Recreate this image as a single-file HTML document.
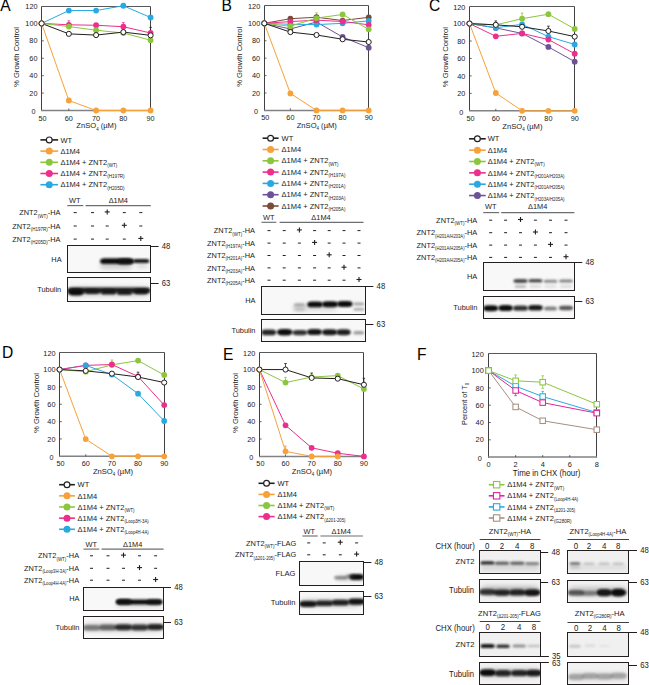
<!DOCTYPE html>
<html><head><meta charset="utf-8"><title>Figure</title>
<style>
html,body{margin:0;padding:0;background:#fff;}
body{width:649px;height:685px;overflow:hidden;}
svg{display:block;font-family:"Liberation Sans",sans-serif;}

</style></head><body>
<svg width="649" height="685" viewBox="0 0 649 685">
<rect width="649" height="685" fill="#fff"/>
<text x="0.30" y="10.50" font-size="15.60" fill="#000">A</text>
<text x="221.60" y="10.60" font-size="15.60" fill="#000">B</text>
<text x="428.90" y="10.60" font-size="15.60" fill="#000">C</text>
<text x="2.00" y="358.30" font-size="15.60" fill="#000">D</text>
<text x="223.00" y="359.60" font-size="15.60" fill="#000">E</text>
<text x="417.00" y="359.50" font-size="15.60" fill="#000">F</text>
<g fill="none">
<line x1="41.50" y1="6.50" x2="150.50" y2="6.50" stroke="#58595b" stroke-width="1.00" />
<line x1="150.50" y1="6.50" x2="150.50" y2="110.50" stroke="#414042" stroke-width="1.00" />
<line x1="41.50" y1="6.50" x2="41.50" y2="111.00" stroke="#414042" stroke-width="1.00" />
<line x1="41.00" y1="110.50" x2="151.00" y2="110.50" stroke="#808285" stroke-width="1.50" />
</g>
<text x="35.50" y="114.51" font-size="7.30" text-anchor="end" fill="#1a1a1a" transform="matrix(1 0 0 1.060 0 -6.871)" >0</text>
<line x1="41.60" y1="93.08" x2="43.80" y2="93.08" stroke="#414042" stroke-width="0.80" />
<text x="37.50" y="95.70" font-size="7.30" text-anchor="end" fill="#1a1a1a" transform="matrix(1 0 0 1.060 0 -5.742)" >20</text>
<line x1="41.60" y1="75.67" x2="43.80" y2="75.67" stroke="#414042" stroke-width="0.80" />
<text x="37.50" y="78.28" font-size="7.30" text-anchor="end" fill="#1a1a1a" transform="matrix(1 0 0 1.060 0 -4.697)" >40</text>
<line x1="41.60" y1="58.25" x2="43.80" y2="58.25" stroke="#414042" stroke-width="0.80" />
<text x="37.50" y="60.86" font-size="7.30" text-anchor="end" fill="#1a1a1a" transform="matrix(1 0 0 1.060 0 -3.652)" >60</text>
<line x1="41.60" y1="40.83" x2="43.80" y2="40.83" stroke="#414042" stroke-width="0.80" />
<text x="37.50" y="43.45" font-size="7.30" text-anchor="end" fill="#1a1a1a" transform="matrix(1 0 0 1.060 0 -2.607)" >80</text>
<line x1="41.60" y1="23.42" x2="43.80" y2="23.42" stroke="#414042" stroke-width="0.80" />
<text x="37.50" y="26.03" font-size="7.30" text-anchor="end" fill="#1a1a1a" transform="matrix(1 0 0 1.060 0 -1.562)" >100</text>
<text x="37.50" y="9.41" font-size="7.30" text-anchor="end" fill="#1a1a1a" transform="matrix(1 0 0 1.060 0 -0.565)" >120</text>
<text x="42.60" y="120.51" font-size="7.30" text-anchor="middle" fill="#1a1a1a" transform="matrix(1 0 0 1.060 0 -7.231)" >50</text>
<line x1="68.85" y1="110.50" x2="68.85" y2="108.50" stroke="#414042" stroke-width="0.80" />
<text x="68.85" y="120.51" font-size="7.30" text-anchor="middle" fill="#1a1a1a" transform="matrix(1 0 0 1.060 0 -7.231)" >60</text>
<line x1="96.10" y1="110.50" x2="96.10" y2="108.50" stroke="#414042" stroke-width="0.80" />
<text x="96.10" y="120.51" font-size="7.30" text-anchor="middle" fill="#1a1a1a" transform="matrix(1 0 0 1.060 0 -7.231)" >70</text>
<line x1="123.35" y1="110.50" x2="123.35" y2="108.50" stroke="#414042" stroke-width="0.80" />
<text x="123.35" y="120.51" font-size="7.30" text-anchor="middle" fill="#1a1a1a" transform="matrix(1 0 0 1.060 0 -7.231)" >80</text>
<text x="150.60" y="120.51" font-size="7.30" text-anchor="middle" fill="#1a1a1a" transform="matrix(1 0 0 1.060 0 -7.231)" >90</text>
<text x="96.40" y="128.42" font-size="7.60" text-anchor="middle" fill="#1a1a1a" transform="matrix(1 0 0 1.060 0 -7.705)" >ZnSO<tspan font-size="4.40" dy="2.00">4</tspan><tspan dy="-2.00"> (µM)</tspan></text>
<g transform="translate(16.75 56.95) rotate(-90)">
<text x="0.00" y="2.72" font-size="7.60" text-anchor="middle" fill="#1a1a1a" transform="matrix(1 0 0 1.060 0 -0.163)" >% Growth Control</text>
</g>
<line x1="68.85" y1="25.16" x2="68.85" y2="20.80" stroke="#ec2f8c" stroke-width="0.80" />
<line x1="67.55" y1="20.80" x2="70.15" y2="20.80" stroke="#ec2f8c" stroke-width="0.80" />
<line x1="123.35" y1="26.90" x2="123.35" y2="22.55" stroke="#ec2f8c" stroke-width="0.80" />
<line x1="122.05" y1="22.55" x2="124.65" y2="22.55" stroke="#ec2f8c" stroke-width="0.80" />
<line x1="150.60" y1="35.61" x2="150.60" y2="27.34" stroke="#231f20" stroke-width="0.80" />
<line x1="149.30" y1="27.34" x2="151.90" y2="27.34" stroke="#231f20" stroke-width="0.80" />
<line x1="123.35" y1="32.12" x2="123.35" y2="27.77" stroke="#231f20" stroke-width="0.80" />
<line x1="122.05" y1="27.77" x2="124.65" y2="27.77" stroke="#231f20" stroke-width="0.80" />
<polyline points="41.60,23.42 68.85,100.49 96.10,110.50 123.35,110.50 150.60,110.50" fill="none" stroke="#f7a13a" stroke-width="1.00" stroke-linejoin="round"/>
<polyline points="41.60,23.42 68.85,10.53 96.10,10.53 123.35,5.74 150.60,17.50" fill="none" stroke="#2aa9e0" stroke-width="1.00" stroke-linejoin="round"/>
<polyline points="41.60,23.42 68.85,24.81 96.10,25.25 123.35,26.73 150.60,33.00" fill="none" stroke="#ec2f8c" stroke-width="1.00" stroke-linejoin="round"/>
<polyline points="41.60,23.42 68.85,26.55 96.10,30.21 123.35,33.00 150.60,40.22" fill="none" stroke="#8cc63f" stroke-width="1.00" stroke-linejoin="round"/>
<polyline points="41.60,23.42 68.85,33.87 96.10,35.09 123.35,32.12 150.60,35.35" fill="none" stroke="#231f20" stroke-width="1.00" stroke-linejoin="round"/>
<circle cx="41.60" cy="23.42" r="2.90" fill="#f7a13a" stroke="none" stroke-width="1.00"/>
<circle cx="68.85" cy="100.49" r="2.90" fill="#f7a13a" stroke="none" stroke-width="1.00"/>
<circle cx="96.10" cy="110.50" r="2.90" fill="#f7a13a" stroke="none" stroke-width="1.00"/>
<circle cx="123.35" cy="110.50" r="2.90" fill="#f7a13a" stroke="none" stroke-width="1.00"/>
<circle cx="150.60" cy="110.50" r="2.90" fill="#f7a13a" stroke="none" stroke-width="1.00"/>
<circle cx="41.60" cy="23.42" r="2.90" fill="#2aa9e0" stroke="none" stroke-width="1.00"/>
<circle cx="68.85" cy="10.53" r="2.90" fill="#2aa9e0" stroke="none" stroke-width="1.00"/>
<circle cx="96.10" cy="10.53" r="2.90" fill="#2aa9e0" stroke="none" stroke-width="1.00"/>
<circle cx="123.35" cy="5.74" r="2.90" fill="#2aa9e0" stroke="none" stroke-width="1.00"/>
<circle cx="150.60" cy="17.50" r="2.90" fill="#2aa9e0" stroke="none" stroke-width="1.00"/>
<circle cx="41.60" cy="23.42" r="2.90" fill="#ec2f8c" stroke="none" stroke-width="1.00"/>
<circle cx="68.85" cy="24.81" r="2.90" fill="#ec2f8c" stroke="none" stroke-width="1.00"/>
<circle cx="96.10" cy="25.25" r="2.90" fill="#ec2f8c" stroke="none" stroke-width="1.00"/>
<circle cx="123.35" cy="26.73" r="2.90" fill="#ec2f8c" stroke="none" stroke-width="1.00"/>
<circle cx="150.60" cy="33.00" r="2.90" fill="#ec2f8c" stroke="none" stroke-width="1.00"/>
<circle cx="41.60" cy="23.42" r="2.90" fill="#8cc63f" stroke="none" stroke-width="1.00"/>
<circle cx="68.85" cy="26.55" r="2.90" fill="#8cc63f" stroke="none" stroke-width="1.00"/>
<circle cx="96.10" cy="30.21" r="2.90" fill="#8cc63f" stroke="none" stroke-width="1.00"/>
<circle cx="123.35" cy="33.00" r="2.90" fill="#8cc63f" stroke="none" stroke-width="1.00"/>
<circle cx="150.60" cy="40.22" r="2.90" fill="#8cc63f" stroke="none" stroke-width="1.00"/>
<circle cx="41.60" cy="23.42" r="2.55" fill="#fff" stroke="#231f20" stroke-width="1.00"/>
<circle cx="68.85" cy="33.87" r="2.55" fill="#fff" stroke="#231f20" stroke-width="1.00"/>
<circle cx="96.10" cy="35.09" r="2.55" fill="#fff" stroke="#231f20" stroke-width="1.00"/>
<circle cx="123.35" cy="32.12" r="2.55" fill="#fff" stroke="#231f20" stroke-width="1.00"/>
<circle cx="150.60" cy="35.35" r="2.55" fill="#fff" stroke="#231f20" stroke-width="1.00"/>
<line x1="40.40" y1="139.90" x2="58.10" y2="139.90" stroke="#231f20" stroke-width="1.60" />
<circle cx="49.25" cy="139.90" r="2.90" fill="#fff" stroke="#231f20" stroke-width="1.20"/>
<text x="60.40" y="142.59" font-size="7.50" text-anchor="start" fill="#1a1a1a" transform="matrix(1 0 0 1.060 0 -8.555)" >WT</text>
<line x1="40.40" y1="151.10" x2="58.10" y2="151.10" stroke="#f7a13a" stroke-width="1.60" />
<circle cx="49.25" cy="151.10" r="3.50" fill="#f7a13a" stroke="none" stroke-width="1.00"/>
<text x="60.40" y="153.78" font-size="7.50" text-anchor="start" fill="#1a1a1a" transform="matrix(1 0 0 1.060 0 -9.227)" >Δ1M4</text>
<line x1="40.40" y1="162.30" x2="58.10" y2="162.30" stroke="#8cc63f" stroke-width="1.60" />
<circle cx="49.25" cy="162.30" r="3.50" fill="#8cc63f" stroke="none" stroke-width="1.00"/>
<text x="60.40" y="164.99" font-size="7.50" text-anchor="start" fill="#1a1a1a" transform="matrix(1 0 0 1.060 0 -9.899)" >Δ1M4 + ZNT2<tspan font-size="4.58" dy="2.17">(WT)</tspan></text>
<line x1="40.40" y1="173.50" x2="58.10" y2="173.50" stroke="#ec2f8c" stroke-width="1.60" />
<circle cx="49.25" cy="173.50" r="3.50" fill="#ec2f8c" stroke="none" stroke-width="1.00"/>
<text x="60.40" y="176.19" font-size="7.50" text-anchor="start" fill="#1a1a1a" transform="matrix(1 0 0 1.060 0 -10.571)" >Δ1M4 + ZNT2<tspan font-size="4.58" dy="2.17">(H197R)</tspan></text>
<line x1="40.40" y1="184.70" x2="58.10" y2="184.70" stroke="#2aa9e0" stroke-width="1.60" />
<circle cx="49.25" cy="184.70" r="3.50" fill="#2aa9e0" stroke="none" stroke-width="1.00"/>
<text x="60.40" y="187.38" font-size="7.50" text-anchor="start" fill="#1a1a1a" transform="matrix(1 0 0 1.060 0 -11.243)" >Δ1M4 + ZNT2<tspan font-size="4.58" dy="2.17">(H205D)</tspan></text>
<g fill="none">
<line x1="264.50" y1="5.50" x2="368.50" y2="5.50" stroke="#58595b" stroke-width="1.00" />
<line x1="368.50" y1="5.50" x2="368.50" y2="110.50" stroke="#414042" stroke-width="1.00" />
<line x1="264.50" y1="5.50" x2="264.50" y2="111.00" stroke="#414042" stroke-width="1.00" />
<line x1="264.00" y1="110.40" x2="369.00" y2="110.40" stroke="#808285" stroke-width="1.50" />
</g>
<text x="258.20" y="114.41" font-size="7.30" text-anchor="end" fill="#1a1a1a" transform="matrix(1 0 0 1.060 0 -6.865)" >0</text>
<line x1="264.30" y1="92.98" x2="266.50" y2="92.98" stroke="#414042" stroke-width="0.80" />
<text x="260.20" y="95.60" font-size="7.30" text-anchor="end" fill="#1a1a1a" transform="matrix(1 0 0 1.060 0 -5.736)" >20</text>
<line x1="264.30" y1="75.57" x2="266.50" y2="75.57" stroke="#414042" stroke-width="0.80" />
<text x="260.20" y="78.18" font-size="7.30" text-anchor="end" fill="#1a1a1a" transform="matrix(1 0 0 1.060 0 -4.691)" >40</text>
<line x1="264.30" y1="58.15" x2="266.50" y2="58.15" stroke="#414042" stroke-width="0.80" />
<text x="260.20" y="60.76" font-size="7.30" text-anchor="end" fill="#1a1a1a" transform="matrix(1 0 0 1.060 0 -3.646)" >60</text>
<line x1="264.30" y1="40.73" x2="266.50" y2="40.73" stroke="#414042" stroke-width="0.80" />
<text x="260.20" y="43.35" font-size="7.30" text-anchor="end" fill="#1a1a1a" transform="matrix(1 0 0 1.060 0 -2.601)" >80</text>
<line x1="264.30" y1="23.32" x2="266.50" y2="23.32" stroke="#414042" stroke-width="0.80" />
<text x="260.20" y="25.93" font-size="7.30" text-anchor="end" fill="#1a1a1a" transform="matrix(1 0 0 1.060 0 -1.556)" >100</text>
<text x="260.20" y="9.31" font-size="7.30" text-anchor="end" fill="#1a1a1a" transform="matrix(1 0 0 1.060 0 -0.559)" >120</text>
<text x="265.30" y="120.41" font-size="7.30" text-anchor="middle" fill="#1a1a1a" transform="matrix(1 0 0 1.060 0 -7.225)" >50</text>
<line x1="290.40" y1="110.40" x2="290.40" y2="108.40" stroke="#414042" stroke-width="0.80" />
<text x="290.40" y="120.41" font-size="7.30" text-anchor="middle" fill="#1a1a1a" transform="matrix(1 0 0 1.060 0 -7.225)" >60</text>
<line x1="316.50" y1="110.40" x2="316.50" y2="108.40" stroke="#414042" stroke-width="0.80" />
<text x="316.50" y="120.41" font-size="7.30" text-anchor="middle" fill="#1a1a1a" transform="matrix(1 0 0 1.060 0 -7.225)" >70</text>
<line x1="342.60" y1="110.40" x2="342.60" y2="108.40" stroke="#414042" stroke-width="0.80" />
<text x="342.60" y="120.41" font-size="7.30" text-anchor="middle" fill="#1a1a1a" transform="matrix(1 0 0 1.060 0 -7.225)" >80</text>
<text x="368.70" y="120.41" font-size="7.30" text-anchor="middle" fill="#1a1a1a" transform="matrix(1 0 0 1.060 0 -7.225)" >90</text>
<text x="316.80" y="128.32" font-size="7.60" text-anchor="middle" fill="#1a1a1a" transform="matrix(1 0 0 1.060 0 -7.699)" >ZnSO<tspan font-size="4.40" dy="2.00">4</tspan><tspan dy="-2.00"> (µM)</tspan></text>
<g transform="translate(239.75 56.85) rotate(-90)">
<text x="0.00" y="2.72" font-size="7.60" text-anchor="middle" fill="#1a1a1a" transform="matrix(1 0 0 1.060 0 -0.163)" >% Growth Control</text>
</g>
<line x1="316.50" y1="18.09" x2="316.50" y2="12.87" stroke="#8cc63f" stroke-width="0.80" />
<line x1="315.20" y1="12.87" x2="317.80" y2="12.87" stroke="#8cc63f" stroke-width="0.80" />
<polyline points="264.30,23.32 290.40,93.42 316.50,110.40 342.60,110.40 368.70,110.40" fill="none" stroke="#f7a13a" stroke-width="1.00" stroke-linejoin="round"/>
<polyline points="264.30,23.32 290.40,28.98 316.50,22.01 342.60,36.99 368.70,47.70" fill="none" stroke="#6e5297" stroke-width="1.00" stroke-linejoin="round"/>
<polyline points="264.30,23.32 290.40,18.70 316.50,17.22 342.60,20.53 368.70,17.31" fill="none" stroke="#7a4a3a" stroke-width="1.00" stroke-linejoin="round"/>
<polyline points="264.30,23.32 290.40,24.27 316.50,24.62 342.60,23.32 368.70,20.88" fill="none" stroke="#2aa9e0" stroke-width="1.00" stroke-linejoin="round"/>
<polyline points="264.30,23.32 290.40,21.58 316.50,20.18 342.60,21.49 368.70,24.80" fill="none" stroke="#ec2f8c" stroke-width="1.00" stroke-linejoin="round"/>
<polyline points="264.30,23.32 290.40,26.19 316.50,18.09 342.60,14.52 368.70,29.33" fill="none" stroke="#8cc63f" stroke-width="1.00" stroke-linejoin="round"/>
<polyline points="264.30,23.32 290.40,32.11 316.50,34.99 342.60,39.25 368.70,42.04" fill="none" stroke="#231f20" stroke-width="1.00" stroke-linejoin="round"/>
<circle cx="264.30" cy="23.32" r="2.90" fill="#f7a13a" stroke="none" stroke-width="1.00"/>
<circle cx="290.40" cy="93.42" r="2.90" fill="#f7a13a" stroke="none" stroke-width="1.00"/>
<circle cx="316.50" cy="110.40" r="2.90" fill="#f7a13a" stroke="none" stroke-width="1.00"/>
<circle cx="342.60" cy="110.40" r="2.90" fill="#f7a13a" stroke="none" stroke-width="1.00"/>
<circle cx="368.70" cy="110.40" r="2.90" fill="#f7a13a" stroke="none" stroke-width="1.00"/>
<circle cx="264.30" cy="23.32" r="2.90" fill="#6e5297" stroke="none" stroke-width="1.00"/>
<circle cx="290.40" cy="28.98" r="2.90" fill="#6e5297" stroke="none" stroke-width="1.00"/>
<circle cx="316.50" cy="22.01" r="2.90" fill="#6e5297" stroke="none" stroke-width="1.00"/>
<circle cx="342.60" cy="36.99" r="2.90" fill="#6e5297" stroke="none" stroke-width="1.00"/>
<circle cx="368.70" cy="47.70" r="2.90" fill="#6e5297" stroke="none" stroke-width="1.00"/>
<circle cx="264.30" cy="23.32" r="2.90" fill="#7a4a3a" stroke="none" stroke-width="1.00"/>
<circle cx="290.40" cy="18.70" r="2.90" fill="#7a4a3a" stroke="none" stroke-width="1.00"/>
<circle cx="316.50" cy="17.22" r="2.90" fill="#7a4a3a" stroke="none" stroke-width="1.00"/>
<circle cx="342.60" cy="20.53" r="2.90" fill="#7a4a3a" stroke="none" stroke-width="1.00"/>
<circle cx="368.70" cy="17.31" r="2.90" fill="#7a4a3a" stroke="none" stroke-width="1.00"/>
<circle cx="264.30" cy="23.32" r="2.90" fill="#2aa9e0" stroke="none" stroke-width="1.00"/>
<circle cx="290.40" cy="24.27" r="2.90" fill="#2aa9e0" stroke="none" stroke-width="1.00"/>
<circle cx="316.50" cy="24.62" r="2.90" fill="#2aa9e0" stroke="none" stroke-width="1.00"/>
<circle cx="342.60" cy="23.32" r="2.90" fill="#2aa9e0" stroke="none" stroke-width="1.00"/>
<circle cx="368.70" cy="20.88" r="2.90" fill="#2aa9e0" stroke="none" stroke-width="1.00"/>
<circle cx="264.30" cy="23.32" r="2.90" fill="#ec2f8c" stroke="none" stroke-width="1.00"/>
<circle cx="290.40" cy="21.58" r="2.90" fill="#ec2f8c" stroke="none" stroke-width="1.00"/>
<circle cx="316.50" cy="20.18" r="2.90" fill="#ec2f8c" stroke="none" stroke-width="1.00"/>
<circle cx="342.60" cy="21.49" r="2.90" fill="#ec2f8c" stroke="none" stroke-width="1.00"/>
<circle cx="368.70" cy="24.80" r="2.90" fill="#ec2f8c" stroke="none" stroke-width="1.00"/>
<circle cx="264.30" cy="23.32" r="2.90" fill="#8cc63f" stroke="none" stroke-width="1.00"/>
<circle cx="290.40" cy="26.19" r="2.90" fill="#8cc63f" stroke="none" stroke-width="1.00"/>
<circle cx="316.50" cy="18.09" r="2.90" fill="#8cc63f" stroke="none" stroke-width="1.00"/>
<circle cx="342.60" cy="14.52" r="2.90" fill="#8cc63f" stroke="none" stroke-width="1.00"/>
<circle cx="368.70" cy="29.33" r="2.90" fill="#8cc63f" stroke="none" stroke-width="1.00"/>
<circle cx="264.30" cy="23.32" r="2.55" fill="#fff" stroke="#231f20" stroke-width="1.00"/>
<circle cx="290.40" cy="32.11" r="2.55" fill="#fff" stroke="#231f20" stroke-width="1.00"/>
<circle cx="316.50" cy="34.99" r="2.55" fill="#fff" stroke="#231f20" stroke-width="1.00"/>
<circle cx="342.60" cy="39.25" r="2.55" fill="#fff" stroke="#231f20" stroke-width="1.00"/>
<circle cx="368.70" cy="42.04" r="2.55" fill="#fff" stroke="#231f20" stroke-width="1.00"/>
<line x1="262.60" y1="138.20" x2="278.60" y2="138.20" stroke="#231f20" stroke-width="1.60" />
<circle cx="270.60" cy="138.20" r="2.90" fill="#fff" stroke="#231f20" stroke-width="1.20"/>
<text x="281.60" y="140.88" font-size="7.50" text-anchor="start" fill="#1a1a1a" transform="matrix(1 0 0 1.060 0 -8.453)" >WT</text>
<line x1="262.60" y1="149.50" x2="278.60" y2="149.50" stroke="#f7a13a" stroke-width="1.60" />
<circle cx="270.60" cy="149.50" r="3.50" fill="#f7a13a" stroke="none" stroke-width="1.00"/>
<text x="281.60" y="152.19" font-size="7.50" text-anchor="start" fill="#1a1a1a" transform="matrix(1 0 0 1.060 0 -9.131)" >Δ1M4</text>
<line x1="262.60" y1="160.80" x2="278.60" y2="160.80" stroke="#8cc63f" stroke-width="1.60" />
<circle cx="270.60" cy="160.80" r="3.50" fill="#8cc63f" stroke="none" stroke-width="1.00"/>
<text x="281.60" y="163.48" font-size="7.50" text-anchor="start" fill="#1a1a1a" transform="matrix(1 0 0 1.060 0 -9.809)" >Δ1M4 + ZNT2<tspan font-size="4.58" dy="2.17">(WT)</tspan></text>
<line x1="262.60" y1="172.10" x2="278.60" y2="172.10" stroke="#ec2f8c" stroke-width="1.60" />
<circle cx="270.60" cy="172.10" r="3.50" fill="#ec2f8c" stroke="none" stroke-width="1.00"/>
<text x="281.60" y="174.78" font-size="7.50" text-anchor="start" fill="#1a1a1a" transform="matrix(1 0 0 1.060 0 -10.487)" >Δ1M4 + ZNT2<tspan font-size="4.58" dy="2.17">(H197A)</tspan></text>
<line x1="262.60" y1="183.40" x2="278.60" y2="183.40" stroke="#2aa9e0" stroke-width="1.60" />
<circle cx="270.60" cy="183.40" r="3.50" fill="#2aa9e0" stroke="none" stroke-width="1.00"/>
<text x="281.60" y="186.08" font-size="7.50" text-anchor="start" fill="#1a1a1a" transform="matrix(1 0 0 1.060 0 -11.165)" >Δ1M4 + ZNT2<tspan font-size="4.58" dy="2.17">(H201A)</tspan></text>
<line x1="262.60" y1="194.70" x2="278.60" y2="194.70" stroke="#6e5297" stroke-width="1.60" />
<circle cx="270.60" cy="194.70" r="3.50" fill="#6e5297" stroke="none" stroke-width="1.00"/>
<text x="281.60" y="197.38" font-size="7.50" text-anchor="start" fill="#1a1a1a" transform="matrix(1 0 0 1.060 0 -11.843)" >Δ1M4 + ZNT2<tspan font-size="4.58" dy="2.17">(H203A)</tspan></text>
<line x1="262.60" y1="206.00" x2="278.60" y2="206.00" stroke="#7a4a3a" stroke-width="1.60" />
<circle cx="270.60" cy="206.00" r="3.50" fill="#7a4a3a" stroke="none" stroke-width="1.00"/>
<text x="281.60" y="208.69" font-size="7.50" text-anchor="start" fill="#1a1a1a" transform="matrix(1 0 0 1.060 0 -12.521)" >Δ1M4 + ZNT2<tspan font-size="4.58" dy="2.17">(H205A)</tspan></text>
<g fill="none">
<line x1="469.50" y1="6.50" x2="574.50" y2="6.50" stroke="#58595b" stroke-width="1.00" />
<line x1="574.50" y1="6.50" x2="574.50" y2="110.50" stroke="#414042" stroke-width="1.00" />
<line x1="469.50" y1="6.50" x2="469.50" y2="111.00" stroke="#414042" stroke-width="1.00" />
<line x1="469.00" y1="110.80" x2="575.00" y2="110.80" stroke="#808285" stroke-width="1.50" />
</g>
<text x="463.40" y="114.81" font-size="7.30" text-anchor="end" fill="#1a1a1a" transform="matrix(1 0 0 1.060 0 -6.889)" >0</text>
<line x1="469.50" y1="93.35" x2="471.70" y2="93.35" stroke="#414042" stroke-width="0.80" />
<text x="465.40" y="95.96" font-size="7.30" text-anchor="end" fill="#1a1a1a" transform="matrix(1 0 0 1.060 0 -5.758)" >20</text>
<line x1="469.50" y1="75.90" x2="471.70" y2="75.90" stroke="#414042" stroke-width="0.80" />
<text x="465.40" y="78.51" font-size="7.30" text-anchor="end" fill="#1a1a1a" transform="matrix(1 0 0 1.060 0 -4.711)" >40</text>
<line x1="469.50" y1="58.45" x2="471.70" y2="58.45" stroke="#414042" stroke-width="0.80" />
<text x="465.40" y="61.06" font-size="7.30" text-anchor="end" fill="#1a1a1a" transform="matrix(1 0 0 1.060 0 -3.664)" >60</text>
<line x1="469.50" y1="41.00" x2="471.70" y2="41.00" stroke="#414042" stroke-width="0.80" />
<text x="465.40" y="43.61" font-size="7.30" text-anchor="end" fill="#1a1a1a" transform="matrix(1 0 0 1.060 0 -2.617)" >80</text>
<line x1="469.50" y1="23.55" x2="471.70" y2="23.55" stroke="#414042" stroke-width="0.80" />
<text x="465.40" y="26.16" font-size="7.30" text-anchor="end" fill="#1a1a1a" transform="matrix(1 0 0 1.060 0 -1.570)" >100</text>
<text x="465.40" y="9.51" font-size="7.30" text-anchor="end" fill="#1a1a1a" transform="matrix(1 0 0 1.060 0 -0.571)" >120</text>
<text x="470.50" y="120.81" font-size="7.30" text-anchor="middle" fill="#1a1a1a" transform="matrix(1 0 0 1.060 0 -7.249)" >50</text>
<line x1="495.80" y1="110.80" x2="495.80" y2="108.80" stroke="#414042" stroke-width="0.80" />
<text x="495.80" y="120.81" font-size="7.30" text-anchor="middle" fill="#1a1a1a" transform="matrix(1 0 0 1.060 0 -7.249)" >60</text>
<line x1="522.10" y1="110.80" x2="522.10" y2="108.80" stroke="#414042" stroke-width="0.80" />
<text x="522.10" y="120.81" font-size="7.30" text-anchor="middle" fill="#1a1a1a" transform="matrix(1 0 0 1.060 0 -7.249)" >70</text>
<line x1="548.40" y1="110.80" x2="548.40" y2="108.80" stroke="#414042" stroke-width="0.80" />
<text x="548.40" y="120.81" font-size="7.30" text-anchor="middle" fill="#1a1a1a" transform="matrix(1 0 0 1.060 0 -7.249)" >80</text>
<text x="574.70" y="120.81" font-size="7.30" text-anchor="middle" fill="#1a1a1a" transform="matrix(1 0 0 1.060 0 -7.249)" >90</text>
<text x="522.40" y="128.72" font-size="7.60" text-anchor="middle" fill="#1a1a1a" transform="matrix(1 0 0 1.060 0 -7.723)" >ZnSO<tspan font-size="4.40" dy="2.00">4</tspan><tspan dy="-2.00"> (µM)</tspan></text>
<g transform="translate(445.20 57.15) rotate(-90)">
<text x="0.00" y="2.72" font-size="7.60" text-anchor="middle" fill="#1a1a1a" transform="matrix(1 0 0 1.060 0 -0.163)" >% Growth Control</text>
</g>
<line x1="522.10" y1="19.19" x2="522.10" y2="13.08" stroke="#8cc63f" stroke-width="0.80" />
<line x1="520.80" y1="13.08" x2="523.40" y2="13.08" stroke="#8cc63f" stroke-width="0.80" />
<line x1="495.80" y1="25.29" x2="495.80" y2="20.93" stroke="#231f20" stroke-width="0.80" />
<line x1="494.50" y1="20.93" x2="497.10" y2="20.93" stroke="#231f20" stroke-width="0.80" />
<line x1="548.40" y1="31.40" x2="548.40" y2="26.17" stroke="#231f20" stroke-width="0.80" />
<line x1="547.10" y1="26.17" x2="549.70" y2="26.17" stroke="#231f20" stroke-width="0.80" />
<polyline points="469.50,23.55 495.80,93.00 522.10,110.80 548.40,110.80 574.70,110.80" fill="none" stroke="#f7a13a" stroke-width="1.00" stroke-linejoin="round"/>
<polyline points="469.50,23.55 495.80,27.91 522.10,33.41 548.40,46.93 574.70,61.68" fill="none" stroke="#6e5297" stroke-width="1.00" stroke-linejoin="round"/>
<polyline points="469.50,23.55 495.80,27.74 522.10,24.34 548.40,36.64 574.70,44.49" fill="none" stroke="#2aa9e0" stroke-width="1.00" stroke-linejoin="round"/>
<polyline points="469.50,23.55 495.80,36.29 522.10,33.41 548.40,39.52 574.70,53.74" fill="none" stroke="#ec2f8c" stroke-width="1.00" stroke-linejoin="round"/>
<polyline points="469.50,23.55 495.80,24.86 522.10,18.66 548.40,14.21 574.70,28.96" fill="none" stroke="#8cc63f" stroke-width="1.00" stroke-linejoin="round"/>
<polyline points="469.50,23.55 495.80,24.86 522.10,26.78 548.40,30.97 574.70,36.64" fill="none" stroke="#231f20" stroke-width="1.00" stroke-linejoin="round"/>
<circle cx="469.50" cy="23.55" r="2.90" fill="#f7a13a" stroke="none" stroke-width="1.00"/>
<circle cx="495.80" cy="93.00" r="2.90" fill="#f7a13a" stroke="none" stroke-width="1.00"/>
<circle cx="522.10" cy="110.80" r="2.90" fill="#f7a13a" stroke="none" stroke-width="1.00"/>
<circle cx="548.40" cy="110.80" r="2.90" fill="#f7a13a" stroke="none" stroke-width="1.00"/>
<circle cx="574.70" cy="110.80" r="2.90" fill="#f7a13a" stroke="none" stroke-width="1.00"/>
<circle cx="469.50" cy="23.55" r="2.90" fill="#6e5297" stroke="none" stroke-width="1.00"/>
<circle cx="495.80" cy="27.91" r="2.90" fill="#6e5297" stroke="none" stroke-width="1.00"/>
<circle cx="522.10" cy="33.41" r="2.90" fill="#6e5297" stroke="none" stroke-width="1.00"/>
<circle cx="548.40" cy="46.93" r="2.90" fill="#6e5297" stroke="none" stroke-width="1.00"/>
<circle cx="574.70" cy="61.68" r="2.90" fill="#6e5297" stroke="none" stroke-width="1.00"/>
<circle cx="469.50" cy="23.55" r="2.90" fill="#2aa9e0" stroke="none" stroke-width="1.00"/>
<circle cx="495.80" cy="27.74" r="2.90" fill="#2aa9e0" stroke="none" stroke-width="1.00"/>
<circle cx="522.10" cy="24.34" r="2.90" fill="#2aa9e0" stroke="none" stroke-width="1.00"/>
<circle cx="548.40" cy="36.64" r="2.90" fill="#2aa9e0" stroke="none" stroke-width="1.00"/>
<circle cx="574.70" cy="44.49" r="2.90" fill="#2aa9e0" stroke="none" stroke-width="1.00"/>
<circle cx="469.50" cy="23.55" r="2.90" fill="#ec2f8c" stroke="none" stroke-width="1.00"/>
<circle cx="495.80" cy="36.29" r="2.90" fill="#ec2f8c" stroke="none" stroke-width="1.00"/>
<circle cx="522.10" cy="33.41" r="2.90" fill="#ec2f8c" stroke="none" stroke-width="1.00"/>
<circle cx="548.40" cy="39.52" r="2.90" fill="#ec2f8c" stroke="none" stroke-width="1.00"/>
<circle cx="574.70" cy="53.74" r="2.90" fill="#ec2f8c" stroke="none" stroke-width="1.00"/>
<circle cx="469.50" cy="23.55" r="2.90" fill="#8cc63f" stroke="none" stroke-width="1.00"/>
<circle cx="495.80" cy="24.86" r="2.90" fill="#8cc63f" stroke="none" stroke-width="1.00"/>
<circle cx="522.10" cy="18.66" r="2.90" fill="#8cc63f" stroke="none" stroke-width="1.00"/>
<circle cx="548.40" cy="14.21" r="2.90" fill="#8cc63f" stroke="none" stroke-width="1.00"/>
<circle cx="574.70" cy="28.96" r="2.90" fill="#8cc63f" stroke="none" stroke-width="1.00"/>
<circle cx="469.50" cy="23.55" r="2.55" fill="#fff" stroke="#231f20" stroke-width="1.00"/>
<circle cx="495.80" cy="24.86" r="2.55" fill="#fff" stroke="#231f20" stroke-width="1.00"/>
<circle cx="522.10" cy="26.78" r="2.55" fill="#fff" stroke="#231f20" stroke-width="1.00"/>
<circle cx="548.40" cy="30.97" r="2.55" fill="#fff" stroke="#231f20" stroke-width="1.00"/>
<circle cx="574.70" cy="36.64" r="2.55" fill="#fff" stroke="#231f20" stroke-width="1.00"/>
<line x1="469.10" y1="138.80" x2="485.70" y2="138.80" stroke="#231f20" stroke-width="1.60" />
<circle cx="477.40" cy="138.80" r="2.90" fill="#fff" stroke="#231f20" stroke-width="1.20"/>
<text x="487.70" y="141.49" font-size="7.50" text-anchor="start" fill="#1a1a1a" transform="matrix(1 0 0 1.060 0 -8.489)" >WT</text>
<line x1="469.10" y1="150.15" x2="485.70" y2="150.15" stroke="#f7a13a" stroke-width="1.60" />
<circle cx="477.40" cy="150.15" r="3.50" fill="#f7a13a" stroke="none" stroke-width="1.00"/>
<text x="487.70" y="152.84" font-size="7.50" text-anchor="start" fill="#1a1a1a" transform="matrix(1 0 0 1.060 0 -9.170)" >Δ1M4</text>
<line x1="469.10" y1="161.50" x2="485.70" y2="161.50" stroke="#8cc63f" stroke-width="1.60" />
<circle cx="477.40" cy="161.50" r="3.50" fill="#8cc63f" stroke="none" stroke-width="1.00"/>
<text x="487.70" y="164.19" font-size="7.50" text-anchor="start" fill="#1a1a1a" transform="matrix(1 0 0 1.060 0 -9.851)" >Δ1M4 + ZNT2<tspan font-size="4.58" dy="2.17">(WT)</tspan></text>
<line x1="469.10" y1="172.85" x2="485.70" y2="172.85" stroke="#ec2f8c" stroke-width="1.60" />
<circle cx="477.40" cy="172.85" r="3.50" fill="#ec2f8c" stroke="none" stroke-width="1.00"/>
<text x="487.70" y="175.54" font-size="7.50" text-anchor="start" fill="#1a1a1a" transform="matrix(1 0 0 1.060 0 -10.532)" >Δ1M4 + ZNT2<tspan font-size="4.25" dy="2.17">(H201A/H203A)</tspan></text>
<line x1="469.10" y1="184.20" x2="485.70" y2="184.20" stroke="#2aa9e0" stroke-width="1.60" />
<circle cx="477.40" cy="184.20" r="3.50" fill="#2aa9e0" stroke="none" stroke-width="1.00"/>
<text x="487.70" y="186.89" font-size="7.50" text-anchor="start" fill="#1a1a1a" transform="matrix(1 0 0 1.060 0 -11.213)" >Δ1M4 + ZNT2<tspan font-size="4.25" dy="2.17">(H201A/H205A)</tspan></text>
<line x1="469.10" y1="195.55" x2="485.70" y2="195.55" stroke="#6e5297" stroke-width="1.60" />
<circle cx="477.40" cy="195.55" r="3.50" fill="#6e5297" stroke="none" stroke-width="1.00"/>
<text x="487.70" y="198.24" font-size="7.50" text-anchor="start" fill="#1a1a1a" transform="matrix(1 0 0 1.060 0 -11.894)" >Δ1M4 + ZNT2<tspan font-size="4.25" dy="2.17">(H203A/H205A)</tspan></text>
<g fill="none">
<line x1="59.50" y1="352.50" x2="164.50" y2="352.50" stroke="#58595b" stroke-width="1.00" />
<line x1="164.50" y1="352.50" x2="164.50" y2="456.50" stroke="#414042" stroke-width="1.00" />
<line x1="59.50" y1="352.50" x2="59.50" y2="457.00" stroke="#414042" stroke-width="1.00" />
<line x1="59.00" y1="456.30" x2="165.00" y2="456.30" stroke="#808285" stroke-width="1.50" />
</g>
<text x="53.50" y="460.31" font-size="7.30" text-anchor="end" fill="#1a1a1a" transform="matrix(1 0 0 1.060 0 -27.619)" >0</text>
<line x1="59.60" y1="438.95" x2="61.80" y2="438.95" stroke="#414042" stroke-width="0.80" />
<text x="55.50" y="441.56" font-size="7.30" text-anchor="end" fill="#1a1a1a" transform="matrix(1 0 0 1.060 0 -26.494)" >20</text>
<line x1="59.60" y1="421.60" x2="61.80" y2="421.60" stroke="#414042" stroke-width="0.80" />
<text x="55.50" y="424.21" font-size="7.30" text-anchor="end" fill="#1a1a1a" transform="matrix(1 0 0 1.060 0 -25.453)" >40</text>
<line x1="59.60" y1="404.25" x2="61.80" y2="404.25" stroke="#414042" stroke-width="0.80" />
<text x="55.50" y="406.86" font-size="7.30" text-anchor="end" fill="#1a1a1a" transform="matrix(1 0 0 1.060 0 -24.412)" >60</text>
<line x1="59.60" y1="386.90" x2="61.80" y2="386.90" stroke="#414042" stroke-width="0.80" />
<text x="55.50" y="389.51" font-size="7.30" text-anchor="end" fill="#1a1a1a" transform="matrix(1 0 0 1.060 0 -23.371)" >80</text>
<line x1="59.60" y1="369.55" x2="61.80" y2="369.55" stroke="#414042" stroke-width="0.80" />
<text x="55.50" y="372.16" font-size="7.30" text-anchor="end" fill="#1a1a1a" transform="matrix(1 0 0 1.060 0 -22.330)" >100</text>
<text x="55.50" y="355.61" font-size="7.30" text-anchor="end" fill="#1a1a1a" transform="matrix(1 0 0 1.060 0 -21.337)" >120</text>
<text x="60.60" y="466.31" font-size="7.30" text-anchor="middle" fill="#1a1a1a" transform="matrix(1 0 0 1.060 0 -27.979)" >50</text>
<line x1="85.75" y1="456.30" x2="85.75" y2="454.30" stroke="#414042" stroke-width="0.80" />
<text x="85.75" y="466.31" font-size="7.30" text-anchor="middle" fill="#1a1a1a" transform="matrix(1 0 0 1.060 0 -27.979)" >60</text>
<line x1="111.90" y1="456.30" x2="111.90" y2="454.30" stroke="#414042" stroke-width="0.80" />
<text x="111.90" y="466.31" font-size="7.30" text-anchor="middle" fill="#1a1a1a" transform="matrix(1 0 0 1.060 0 -27.979)" >70</text>
<line x1="138.05" y1="456.30" x2="138.05" y2="454.30" stroke="#414042" stroke-width="0.80" />
<text x="138.05" y="466.31" font-size="7.30" text-anchor="middle" fill="#1a1a1a" transform="matrix(1 0 0 1.060 0 -27.979)" >80</text>
<text x="164.20" y="466.31" font-size="7.30" text-anchor="middle" fill="#1a1a1a" transform="matrix(1 0 0 1.060 0 -27.979)" >90</text>
<text x="113.00" y="474.22" font-size="7.60" text-anchor="middle" fill="#1a1a1a" transform="matrix(1 0 0 1.060 0 -28.453)" >ZnSO<tspan font-size="4.40" dy="2.00">4</tspan><tspan dy="-2.00"> (µM)</tspan></text>
<g transform="translate(36.00 402.95) rotate(-90)">
<text x="0.00" y="2.72" font-size="7.60" text-anchor="middle" fill="#1a1a1a" transform="matrix(1 0 0 1.060 0 -0.163)" >% Growth Control</text>
</g>
<line x1="111.90" y1="365.21" x2="111.90" y2="360.01" stroke="#8cc63f" stroke-width="0.80" />
<line x1="110.60" y1="360.01" x2="113.20" y2="360.01" stroke="#8cc63f" stroke-width="0.80" />
<line x1="138.05" y1="377.36" x2="138.05" y2="372.15" stroke="#231f20" stroke-width="0.80" />
<line x1="136.75" y1="372.15" x2="139.35" y2="372.15" stroke="#231f20" stroke-width="0.80" />
<polyline points="59.60,369.55 85.75,439.12 111.90,456.30 138.05,456.30 164.20,456.30" fill="none" stroke="#f7a13a" stroke-width="1.00" stroke-linejoin="round"/>
<polyline points="59.60,369.55 85.75,371.72 111.90,364.87 138.05,360.61 164.20,375.02" fill="none" stroke="#8cc63f" stroke-width="1.00" stroke-linejoin="round"/>
<polyline points="59.60,369.55 85.75,365.39 111.90,374.58 138.05,393.67 164.20,420.99" fill="none" stroke="#2aa9e0" stroke-width="1.00" stroke-linejoin="round"/>
<polyline points="59.60,369.55 85.75,365.39 111.90,364.52 138.05,376.49 164.20,405.12" fill="none" stroke="#ec2f8c" stroke-width="1.00" stroke-linejoin="round"/>
<polyline points="59.60,369.55 85.75,370.85 111.90,373.63 138.05,377.01 164.20,382.56" fill="none" stroke="#231f20" stroke-width="1.00" stroke-linejoin="round"/>
<circle cx="59.60" cy="369.55" r="2.90" fill="#f7a13a" stroke="none" stroke-width="1.00"/>
<circle cx="85.75" cy="439.12" r="2.90" fill="#f7a13a" stroke="none" stroke-width="1.00"/>
<circle cx="111.90" cy="456.30" r="2.90" fill="#f7a13a" stroke="none" stroke-width="1.00"/>
<circle cx="138.05" cy="456.30" r="2.90" fill="#f7a13a" stroke="none" stroke-width="1.00"/>
<circle cx="164.20" cy="456.30" r="2.90" fill="#f7a13a" stroke="none" stroke-width="1.00"/>
<circle cx="59.60" cy="369.55" r="2.90" fill="#8cc63f" stroke="none" stroke-width="1.00"/>
<circle cx="85.75" cy="371.72" r="2.90" fill="#8cc63f" stroke="none" stroke-width="1.00"/>
<circle cx="111.90" cy="364.87" r="2.90" fill="#8cc63f" stroke="none" stroke-width="1.00"/>
<circle cx="138.05" cy="360.61" r="2.90" fill="#8cc63f" stroke="none" stroke-width="1.00"/>
<circle cx="164.20" cy="375.02" r="2.90" fill="#8cc63f" stroke="none" stroke-width="1.00"/>
<circle cx="59.60" cy="369.55" r="2.90" fill="#ec2f8c" stroke="none" stroke-width="1.00"/>
<circle cx="85.75" cy="365.39" r="2.90" fill="#ec2f8c" stroke="none" stroke-width="1.00"/>
<circle cx="111.90" cy="364.52" r="2.90" fill="#ec2f8c" stroke="none" stroke-width="1.00"/>
<circle cx="138.05" cy="376.49" r="2.90" fill="#ec2f8c" stroke="none" stroke-width="1.00"/>
<circle cx="164.20" cy="405.12" r="2.90" fill="#ec2f8c" stroke="none" stroke-width="1.00"/>
<circle cx="59.60" cy="369.55" r="2.90" fill="#2aa9e0" stroke="none" stroke-width="1.00"/>
<circle cx="85.75" cy="365.39" r="2.90" fill="#2aa9e0" stroke="none" stroke-width="1.00"/>
<circle cx="111.90" cy="374.58" r="2.90" fill="#2aa9e0" stroke="none" stroke-width="1.00"/>
<circle cx="138.05" cy="393.67" r="2.90" fill="#2aa9e0" stroke="none" stroke-width="1.00"/>
<circle cx="164.20" cy="420.99" r="2.90" fill="#2aa9e0" stroke="none" stroke-width="1.00"/>
<circle cx="59.60" cy="369.55" r="2.55" fill="#fff" stroke="#231f20" stroke-width="1.00"/>
<circle cx="85.75" cy="370.85" r="2.55" fill="#fff" stroke="#231f20" stroke-width="1.00"/>
<circle cx="111.90" cy="373.63" r="2.55" fill="#fff" stroke="#231f20" stroke-width="1.00"/>
<circle cx="138.05" cy="377.01" r="2.55" fill="#fff" stroke="#231f20" stroke-width="1.00"/>
<circle cx="164.20" cy="382.56" r="2.55" fill="#fff" stroke="#231f20" stroke-width="1.00"/>
<line x1="59.10" y1="484.70" x2="74.90" y2="484.70" stroke="#231f20" stroke-width="1.60" />
<circle cx="67.00" cy="484.70" r="2.90" fill="#fff" stroke="#231f20" stroke-width="1.20"/>
<text x="77.60" y="487.38" font-size="7.50" text-anchor="start" fill="#1a1a1a" transform="matrix(1 0 0 1.060 0 -29.243)" >WT</text>
<line x1="59.10" y1="495.85" x2="74.90" y2="495.85" stroke="#f7a13a" stroke-width="1.60" />
<circle cx="67.00" cy="495.85" r="3.50" fill="#f7a13a" stroke="none" stroke-width="1.00"/>
<text x="77.60" y="498.53" font-size="7.50" text-anchor="start" fill="#1a1a1a" transform="matrix(1 0 0 1.060 0 -29.912)" >Δ1M4</text>
<line x1="59.10" y1="507.00" x2="74.90" y2="507.00" stroke="#8cc63f" stroke-width="1.60" />
<circle cx="67.00" cy="507.00" r="3.50" fill="#8cc63f" stroke="none" stroke-width="1.00"/>
<text x="77.60" y="509.69" font-size="7.50" text-anchor="start" fill="#1a1a1a" transform="matrix(1 0 0 1.060 0 -30.581)" >Δ1M4 + ZNT2<tspan font-size="4.58" dy="2.17">(WT)</tspan></text>
<line x1="59.10" y1="518.15" x2="74.90" y2="518.15" stroke="#ec2f8c" stroke-width="1.60" />
<circle cx="67.00" cy="518.15" r="3.50" fill="#ec2f8c" stroke="none" stroke-width="1.00"/>
<text x="77.60" y="520.83" font-size="7.50" text-anchor="start" fill="#1a1a1a" transform="matrix(1 0 0 1.060 0 -31.250)" >Δ1M4 + ZNT2<tspan font-size="4.25" dy="2.17">(Loop3H-3A)</tspan></text>
<line x1="59.10" y1="529.30" x2="74.90" y2="529.30" stroke="#2aa9e0" stroke-width="1.60" />
<circle cx="67.00" cy="529.30" r="3.50" fill="#2aa9e0" stroke="none" stroke-width="1.00"/>
<text x="77.60" y="531.98" font-size="7.50" text-anchor="start" fill="#1a1a1a" transform="matrix(1 0 0 1.060 0 -31.919)" >Δ1M4 + ZNT2<tspan font-size="4.25" dy="2.17">(Loop4H-4A)</tspan></text>
<g fill="none">
<line x1="259.50" y1="352.50" x2="363.50" y2="352.50" stroke="#58595b" stroke-width="1.00" />
<line x1="363.50" y1="352.50" x2="363.50" y2="456.50" stroke="#414042" stroke-width="1.00" />
<line x1="259.50" y1="352.50" x2="259.50" y2="457.00" stroke="#414042" stroke-width="1.00" />
<line x1="259.00" y1="456.40" x2="364.00" y2="456.40" stroke="#808285" stroke-width="1.50" />
</g>
<text x="253.30" y="460.41" font-size="7.30" text-anchor="end" fill="#1a1a1a" transform="matrix(1 0 0 1.060 0 -27.625)" >0</text>
<line x1="259.40" y1="439.03" x2="261.60" y2="439.03" stroke="#414042" stroke-width="0.80" />
<text x="255.30" y="441.65" font-size="7.30" text-anchor="end" fill="#1a1a1a" transform="matrix(1 0 0 1.060 0 -26.499)" >20</text>
<line x1="259.40" y1="421.67" x2="261.60" y2="421.67" stroke="#414042" stroke-width="0.80" />
<text x="255.30" y="424.28" font-size="7.30" text-anchor="end" fill="#1a1a1a" transform="matrix(1 0 0 1.060 0 -25.457)" >40</text>
<line x1="259.40" y1="404.30" x2="261.60" y2="404.30" stroke="#414042" stroke-width="0.80" />
<text x="255.30" y="406.91" font-size="7.30" text-anchor="end" fill="#1a1a1a" transform="matrix(1 0 0 1.060 0 -24.415)" >60</text>
<line x1="259.40" y1="386.93" x2="261.60" y2="386.93" stroke="#414042" stroke-width="0.80" />
<text x="255.30" y="389.55" font-size="7.30" text-anchor="end" fill="#1a1a1a" transform="matrix(1 0 0 1.060 0 -23.373)" >80</text>
<line x1="259.40" y1="369.57" x2="261.60" y2="369.57" stroke="#414042" stroke-width="0.80" />
<text x="255.30" y="372.18" font-size="7.30" text-anchor="end" fill="#1a1a1a" transform="matrix(1 0 0 1.060 0 -22.331)" >100</text>
<text x="255.30" y="355.61" font-size="7.30" text-anchor="end" fill="#1a1a1a" transform="matrix(1 0 0 1.060 0 -21.337)" >120</text>
<text x="260.40" y="466.41" font-size="7.30" text-anchor="middle" fill="#1a1a1a" transform="matrix(1 0 0 1.060 0 -27.985)" >50</text>
<line x1="285.52" y1="456.40" x2="285.52" y2="454.40" stroke="#414042" stroke-width="0.80" />
<text x="285.52" y="466.41" font-size="7.30" text-anchor="middle" fill="#1a1a1a" transform="matrix(1 0 0 1.060 0 -27.985)" >60</text>
<line x1="311.65" y1="456.40" x2="311.65" y2="454.40" stroke="#414042" stroke-width="0.80" />
<text x="311.65" y="466.41" font-size="7.30" text-anchor="middle" fill="#1a1a1a" transform="matrix(1 0 0 1.060 0 -27.985)" >70</text>
<line x1="337.77" y1="456.40" x2="337.77" y2="454.40" stroke="#414042" stroke-width="0.80" />
<text x="337.77" y="466.41" font-size="7.30" text-anchor="middle" fill="#1a1a1a" transform="matrix(1 0 0 1.060 0 -27.985)" >80</text>
<text x="363.90" y="466.41" font-size="7.30" text-anchor="middle" fill="#1a1a1a" transform="matrix(1 0 0 1.060 0 -27.985)" >90</text>
<text x="311.95" y="474.32" font-size="7.60" text-anchor="middle" fill="#1a1a1a" transform="matrix(1 0 0 1.060 0 -28.459)" >ZnSO<tspan font-size="4.40" dy="2.00">4</tspan><tspan dy="-2.00"> (µM)</tspan></text>
<g transform="translate(235.60 403.00) rotate(-90)">
<text x="0.00" y="2.72" font-size="7.60" text-anchor="middle" fill="#1a1a1a" transform="matrix(1 0 0 1.060 0 -0.163)" >% Growth Control</text>
</g>
<line x1="285.52" y1="369.57" x2="285.52" y2="363.49" stroke="#231f20" stroke-width="0.80" />
<line x1="284.22" y1="363.49" x2="286.82" y2="363.49" stroke="#231f20" stroke-width="0.80" />
<line x1="311.65" y1="378.25" x2="311.65" y2="373.04" stroke="#231f20" stroke-width="0.80" />
<line x1="310.35" y1="373.04" x2="312.95" y2="373.04" stroke="#231f20" stroke-width="0.80" />
<line x1="363.90" y1="385.20" x2="363.90" y2="378.25" stroke="#231f20" stroke-width="0.80" />
<line x1="362.60" y1="378.25" x2="365.20" y2="378.25" stroke="#231f20" stroke-width="0.80" />
<line x1="285.52" y1="382.59" x2="285.52" y2="377.38" stroke="#8cc63f" stroke-width="0.80" />
<line x1="284.22" y1="377.38" x2="286.82" y2="377.38" stroke="#8cc63f" stroke-width="0.80" />
<line x1="285.52" y1="451.36" x2="285.52" y2="445.98" stroke="#f7a13a" stroke-width="0.80" />
<line x1="284.22" y1="445.98" x2="286.82" y2="445.98" stroke="#f7a13a" stroke-width="0.80" />
<polyline points="259.40,369.57 285.52,425.31 311.65,447.80 337.77,453.27 363.90,456.40" fill="none" stroke="#ec2f8c" stroke-width="1.00" stroke-linejoin="round"/>
<polyline points="259.40,369.57 285.52,451.36 311.65,456.40 337.77,456.40" fill="none" stroke="#f7a13a" stroke-width="1.00" stroke-linejoin="round"/>
<polyline points="259.40,369.57 285.52,382.59 311.65,377.03 337.77,375.64 363.90,389.02" fill="none" stroke="#8cc63f" stroke-width="1.00" stroke-linejoin="round"/>
<polyline points="259.40,369.57 285.52,369.57 311.65,377.90 337.77,378.68 363.90,384.76" fill="none" stroke="#231f20" stroke-width="1.00" stroke-linejoin="round"/>
<circle cx="259.40" cy="369.57" r="2.90" fill="#ec2f8c" stroke="none" stroke-width="1.00"/>
<circle cx="285.52" cy="425.31" r="2.90" fill="#ec2f8c" stroke="none" stroke-width="1.00"/>
<circle cx="311.65" cy="447.80" r="2.90" fill="#ec2f8c" stroke="none" stroke-width="1.00"/>
<circle cx="337.77" cy="453.27" r="2.90" fill="#ec2f8c" stroke="none" stroke-width="1.00"/>
<circle cx="363.90" cy="456.40" r="2.90" fill="#ec2f8c" stroke="none" stroke-width="1.00"/>
<circle cx="259.40" cy="369.57" r="2.90" fill="#f7a13a" stroke="none" stroke-width="1.00"/>
<circle cx="285.52" cy="451.36" r="2.90" fill="#f7a13a" stroke="none" stroke-width="1.00"/>
<circle cx="311.65" cy="456.40" r="2.90" fill="#f7a13a" stroke="none" stroke-width="1.00"/>
<circle cx="337.77" cy="456.40" r="2.90" fill="#f7a13a" stroke="none" stroke-width="1.00"/>
<circle cx="259.40" cy="369.57" r="2.90" fill="#8cc63f" stroke="none" stroke-width="1.00"/>
<circle cx="285.52" cy="382.59" r="2.90" fill="#8cc63f" stroke="none" stroke-width="1.00"/>
<circle cx="311.65" cy="377.03" r="2.90" fill="#8cc63f" stroke="none" stroke-width="1.00"/>
<circle cx="337.77" cy="375.64" r="2.90" fill="#8cc63f" stroke="none" stroke-width="1.00"/>
<circle cx="363.90" cy="389.02" r="2.90" fill="#8cc63f" stroke="none" stroke-width="1.00"/>
<circle cx="259.40" cy="369.57" r="2.55" fill="#fff" stroke="#231f20" stroke-width="1.00"/>
<circle cx="285.52" cy="369.57" r="2.55" fill="#fff" stroke="#231f20" stroke-width="1.00"/>
<circle cx="311.65" cy="377.90" r="2.55" fill="#fff" stroke="#231f20" stroke-width="1.00"/>
<circle cx="337.77" cy="378.68" r="2.55" fill="#fff" stroke="#231f20" stroke-width="1.00"/>
<circle cx="363.90" cy="384.76" r="2.55" fill="#fff" stroke="#231f20" stroke-width="1.00"/>
<line x1="258.50" y1="483.30" x2="274.60" y2="483.30" stroke="#231f20" stroke-width="1.60" />
<circle cx="266.55" cy="483.30" r="2.90" fill="#fff" stroke="#231f20" stroke-width="1.20"/>
<text x="277.40" y="485.99" font-size="7.50" text-anchor="start" fill="#1a1a1a" transform="matrix(1 0 0 1.060 0 -29.159)" >WT</text>
<line x1="258.50" y1="494.40" x2="274.60" y2="494.40" stroke="#f7a13a" stroke-width="1.60" />
<circle cx="266.55" cy="494.40" r="3.50" fill="#f7a13a" stroke="none" stroke-width="1.00"/>
<text x="277.40" y="497.09" font-size="7.50" text-anchor="start" fill="#1a1a1a" transform="matrix(1 0 0 1.060 0 -29.825)" >Δ1M4</text>
<line x1="258.50" y1="505.50" x2="274.60" y2="505.50" stroke="#8cc63f" stroke-width="1.60" />
<circle cx="266.55" cy="505.50" r="3.50" fill="#8cc63f" stroke="none" stroke-width="1.00"/>
<text x="277.40" y="508.19" font-size="7.50" text-anchor="start" fill="#1a1a1a" transform="matrix(1 0 0 1.060 0 -30.491)" >Δ1M4 + ZNT2<tspan font-size="4.58" dy="2.17">(WT)</tspan></text>
<line x1="258.50" y1="516.60" x2="274.60" y2="516.60" stroke="#ec2f8c" stroke-width="1.60" />
<circle cx="266.55" cy="516.60" r="3.50" fill="#ec2f8c" stroke="none" stroke-width="1.00"/>
<text x="277.40" y="519.28" font-size="7.50" text-anchor="start" fill="#1a1a1a" transform="matrix(1 0 0 1.060 0 -31.157)" >Δ1M4 + ZNT2<tspan font-size="4.25" dy="2.17">(Δ201-205)</tspan></text>
<g fill="none">
<line x1="488.50" y1="353.50" x2="596.50" y2="353.50" stroke="#58595b" stroke-width="1.00" />
<line x1="596.50" y1="353.50" x2="596.50" y2="457.50" stroke="#414042" stroke-width="1.00" />
<line x1="488.50" y1="353.50" x2="488.50" y2="458.00" stroke="#414042" stroke-width="1.00" />
<line x1="488.00" y1="457.10" x2="597.00" y2="457.10" stroke="#808285" stroke-width="1.50" />
</g>
<text x="481.80" y="461.15" font-size="7.40" text-anchor="end" fill="#1a1a1a" transform="matrix(1 0 0 1.060 0 -27.669)" >0</text>
<line x1="488.60" y1="439.80" x2="490.80" y2="439.80" stroke="#414042" stroke-width="0.80" />
<text x="483.80" y="442.45" font-size="7.40" text-anchor="end" fill="#1a1a1a" transform="matrix(1 0 0 1.060 0 -26.547)" >20</text>
<line x1="488.60" y1="422.50" x2="490.80" y2="422.50" stroke="#414042" stroke-width="0.80" />
<text x="483.80" y="425.15" font-size="7.40" text-anchor="end" fill="#1a1a1a" transform="matrix(1 0 0 1.060 0 -25.509)" >40</text>
<line x1="488.60" y1="405.20" x2="490.80" y2="405.20" stroke="#414042" stroke-width="0.80" />
<text x="483.80" y="407.85" font-size="7.40" text-anchor="end" fill="#1a1a1a" transform="matrix(1 0 0 1.060 0 -24.471)" >60</text>
<line x1="488.60" y1="387.90" x2="490.80" y2="387.90" stroke="#414042" stroke-width="0.80" />
<text x="483.80" y="390.55" font-size="7.40" text-anchor="end" fill="#1a1a1a" transform="matrix(1 0 0 1.060 0 -23.433)" >80</text>
<line x1="488.60" y1="370.60" x2="490.80" y2="370.60" stroke="#414042" stroke-width="0.80" />
<text x="483.80" y="373.25" font-size="7.40" text-anchor="end" fill="#1a1a1a" transform="matrix(1 0 0 1.060 0 -22.395)" >100</text>
<text x="483.80" y="356.75" font-size="7.40" text-anchor="end" fill="#1a1a1a" transform="matrix(1 0 0 1.060 0 -21.405)" >120</text>
<text x="488.60" y="467.15" font-size="7.40" text-anchor="middle" fill="#1a1a1a" transform="matrix(1 0 0 1.060 0 -28.029)" >0</text>
<line x1="515.65" y1="457.10" x2="515.65" y2="455.10" stroke="#414042" stroke-width="0.80" />
<text x="515.65" y="467.15" font-size="7.40" text-anchor="middle" fill="#1a1a1a" transform="matrix(1 0 0 1.060 0 -28.029)" >2</text>
<line x1="542.70" y1="457.10" x2="542.70" y2="455.10" stroke="#414042" stroke-width="0.80" />
<text x="542.70" y="467.15" font-size="7.40" text-anchor="middle" fill="#1a1a1a" transform="matrix(1 0 0 1.060 0 -28.029)" >4</text>
<line x1="569.75" y1="457.10" x2="569.75" y2="455.10" stroke="#414042" stroke-width="0.80" />
<text x="569.75" y="467.15" font-size="7.40" text-anchor="middle" fill="#1a1a1a" transform="matrix(1 0 0 1.060 0 -28.029)" >6</text>
<text x="596.80" y="467.15" font-size="7.40" text-anchor="middle" fill="#1a1a1a" transform="matrix(1 0 0 1.060 0 -28.029)" >8</text>
<text x="546.70" y="475.93" font-size="7.90" text-anchor="middle" fill="#1a1a1a" transform="matrix(1 0 0 1.060 0 -28.556)" >Time in CHX (hour)</text>
<g transform="translate(464.60 403.90) rotate(-90)">
<text x="0.00" y="2.61" font-size="7.30" text-anchor="middle" fill="#1a1a1a" transform="matrix(1 0 0 1.060 0 -0.157)" >Percent of T<tspan font-size="4.40" dy="2.00">0</tspan></text>
</g>
<line x1="515.65" y1="380.98" x2="515.65" y2="374.93" stroke="#8cc63f" stroke-width="0.80" />
<line x1="514.35" y1="374.93" x2="516.95" y2="374.93" stroke="#8cc63f" stroke-width="0.80" />
<line x1="542.70" y1="382.19" x2="542.70" y2="375.79" stroke="#8cc63f" stroke-width="0.80" />
<line x1="541.40" y1="375.79" x2="544.00" y2="375.79" stroke="#8cc63f" stroke-width="0.80" />
<line x1="542.70" y1="382.19" x2="542.70" y2="388.33" stroke="#8cc63f" stroke-width="0.80" />
<line x1="541.40" y1="388.33" x2="544.00" y2="388.33" stroke="#8cc63f" stroke-width="0.80" />
<line x1="515.65" y1="390.50" x2="515.65" y2="395.69" stroke="#e4249a" stroke-width="0.80" />
<line x1="514.35" y1="395.69" x2="516.95" y2="395.69" stroke="#e4249a" stroke-width="0.80" />
<line x1="542.70" y1="396.55" x2="542.70" y2="391.36" stroke="#2aa9e0" stroke-width="0.80" />
<line x1="541.40" y1="391.36" x2="544.00" y2="391.36" stroke="#2aa9e0" stroke-width="0.80" />
<line x1="515.65" y1="386.17" x2="515.65" y2="389.63" stroke="#e4249a" stroke-width="0.80" />
<line x1="514.35" y1="389.63" x2="516.95" y2="389.63" stroke="#e4249a" stroke-width="0.80" />
<polyline points="488.60,370.60 515.65,406.93 542.70,420.77 596.80,429.68" fill="none" stroke="#a88f80" stroke-width="1.00" stroke-linejoin="round"/>
<polyline points="488.60,370.60 515.65,386.17 542.70,396.55 596.80,412.55" fill="none" stroke="#2aa9e0" stroke-width="1.00" stroke-linejoin="round"/>
<polyline points="488.60,370.60 515.65,390.50 542.70,402.61 596.80,413.16" fill="none" stroke="#e4249a" stroke-width="1.00" stroke-linejoin="round"/>
<polyline points="488.60,370.60 515.65,380.81 542.70,382.19 596.80,404.25" fill="none" stroke="#8cc63f" stroke-width="1.00" stroke-linejoin="round"/>
<rect x="485.85" y="367.85" width="5.50" height="5.50" fill="#fff" stroke="#a88f80" stroke-width="1.05" />
<rect x="512.90" y="404.18" width="5.50" height="5.50" fill="#fff" stroke="#a88f80" stroke-width="1.05" />
<rect x="539.95" y="418.02" width="5.50" height="5.50" fill="#fff" stroke="#a88f80" stroke-width="1.05" />
<rect x="594.05" y="426.93" width="5.50" height="5.50" fill="#fff" stroke="#a88f80" stroke-width="1.05" />
<rect x="485.85" y="367.85" width="5.50" height="5.50" fill="#fff" stroke="#2aa9e0" stroke-width="1.05" />
<rect x="512.90" y="383.42" width="5.50" height="5.50" fill="#fff" stroke="#2aa9e0" stroke-width="1.05" />
<rect x="539.95" y="393.80" width="5.50" height="5.50" fill="#fff" stroke="#2aa9e0" stroke-width="1.05" />
<rect x="594.05" y="409.80" width="5.50" height="5.50" fill="#fff" stroke="#2aa9e0" stroke-width="1.05" />
<rect x="485.85" y="367.85" width="5.50" height="5.50" fill="#fff" stroke="#e4249a" stroke-width="1.05" />
<rect x="512.90" y="387.75" width="5.50" height="5.50" fill="#fff" stroke="#e4249a" stroke-width="1.05" />
<rect x="539.95" y="399.86" width="5.50" height="5.50" fill="#fff" stroke="#e4249a" stroke-width="1.05" />
<rect x="594.05" y="410.41" width="5.50" height="5.50" fill="#fff" stroke="#e4249a" stroke-width="1.05" />
<rect x="485.85" y="367.85" width="5.50" height="5.50" fill="#fff" stroke="#8cc63f" stroke-width="1.05" />
<rect x="512.90" y="378.06" width="5.50" height="5.50" fill="#fff" stroke="#8cc63f" stroke-width="1.05" />
<rect x="539.95" y="379.44" width="5.50" height="5.50" fill="#fff" stroke="#8cc63f" stroke-width="1.05" />
<rect x="594.05" y="401.50" width="5.50" height="5.50" fill="#fff" stroke="#8cc63f" stroke-width="1.05" />
<line x1="488.80" y1="484.70" x2="504.50" y2="484.70" stroke="#8cc63f" stroke-width="1.60" />
<rect x="493.45" y="481.50" width="6.40" height="6.40" fill="#fff" stroke="#8cc63f" stroke-width="1.10" />
<text x="507.20" y="487.38" font-size="7.50" text-anchor="start" fill="#1a1a1a" transform="matrix(1 0 0 1.060 0 -29.243)" >Δ1M4 + ZNT2<tspan font-size="4.58" dy="2.17">(WT)</tspan></text>
<line x1="488.80" y1="495.80" x2="504.50" y2="495.80" stroke="#e4249a" stroke-width="1.60" />
<rect x="493.45" y="492.60" width="6.40" height="6.40" fill="#fff" stroke="#e4249a" stroke-width="1.10" />
<text x="507.20" y="498.49" font-size="7.50" text-anchor="start" fill="#1a1a1a" transform="matrix(1 0 0 1.060 0 -29.909)" >Δ1M4 + ZNT2<tspan font-size="4.25" dy="2.17">(Loop4H-4A)</tspan></text>
<line x1="488.80" y1="506.90" x2="504.50" y2="506.90" stroke="#2aa9e0" stroke-width="1.60" />
<rect x="493.45" y="503.70" width="6.40" height="6.40" fill="#fff" stroke="#2aa9e0" stroke-width="1.10" />
<text x="507.20" y="509.58" font-size="7.50" text-anchor="start" fill="#1a1a1a" transform="matrix(1 0 0 1.060 0 -30.575)" >Δ1M4 + ZNT2<tspan font-size="4.25" dy="2.17">(Δ201-205)</tspan></text>
<line x1="488.80" y1="518.00" x2="504.50" y2="518.00" stroke="#a88f80" stroke-width="1.60" />
<rect x="493.45" y="514.80" width="6.40" height="6.40" fill="#fff" stroke="#a88f80" stroke-width="1.10" />
<text x="507.20" y="520.68" font-size="7.50" text-anchor="start" fill="#1a1a1a" transform="matrix(1 0 0 1.060 0 -31.241)" >Δ1M4 + ZNT2<tspan font-size="4.58" dy="2.17">(G280R)</tspan></text>
<defs><filter id="bl" x="-30%" y="-100%" width="160%" height="300%"><feGaussianBlur stdDeviation="0.9"/></filter>
<filter id="bl2" x="-30%" y="-100%" width="160%" height="300%"><feGaussianBlur stdDeviation="1.3"/></filter>
<filter id="bl3" x="-40%" y="-150%" width="180%" height="400%"><feGaussianBlur stdDeviation="2.2"/></filter></defs>
<text x="74.70" y="203.25" font-size="7.40" text-anchor="middle" fill="#1a1a1a" transform="matrix(1 0 0 1.060 0 -12.195)" >WT</text>
<text x="118.30" y="203.25" font-size="7.40" text-anchor="middle" fill="#1a1a1a" transform="matrix(1 0 0 1.060 0 -12.195)" >Δ1M4</text>
<line x1="67.30" y1="205.60" x2="83.30" y2="205.60" stroke="#6d6e71" stroke-width="1.15" />
<line x1="85.60" y1="205.60" x2="150.80" y2="205.60" stroke="#6d6e71" stroke-width="1.15" />
<text x="60.40" y="215.25" font-size="7.40" text-anchor="end" fill="#1a1a1a" transform="matrix(1 0 0 1.060 0 -12.915)" >ZNT2<tspan font-size="4.51" dy="2.15">(WT)</tspan><tspan dy="-2.15">-HA</tspan></text>
<text x="60.40" y="228.65" font-size="7.40" text-anchor="end" fill="#1a1a1a" transform="matrix(1 0 0 1.060 0 -13.719)" >ZNT2<tspan font-size="4.51" dy="2.15">(H197R)</tspan><tspan dy="-2.15">-HA</tspan></text>
<text x="60.40" y="241.75" font-size="7.40" text-anchor="end" fill="#1a1a1a" transform="matrix(1 0 0 1.060 0 -14.505)" >ZNT2<tspan font-size="4.51" dy="2.15">(H205D)</tspan><tspan dy="-2.15">-HA</tspan></text>
<line x1="73.70" y1="212.60" x2="76.70" y2="212.60" stroke="#231f20" stroke-width="1.00" />
<line x1="91.00" y1="212.60" x2="94.00" y2="212.60" stroke="#231f20" stroke-width="1.00" />
<line x1="104.70" y1="211.90" x2="109.70" y2="211.90" stroke="#231f20" stroke-width="1.10" />
<line x1="107.20" y1="209.40" x2="107.20" y2="214.40" stroke="#231f20" stroke-width="1.10" />
<line x1="122.80" y1="212.60" x2="125.80" y2="212.60" stroke="#231f20" stroke-width="1.00" />
<line x1="139.30" y1="212.60" x2="142.30" y2="212.60" stroke="#231f20" stroke-width="1.00" />
<line x1="73.70" y1="226.00" x2="76.70" y2="226.00" stroke="#231f20" stroke-width="1.00" />
<line x1="91.00" y1="226.00" x2="94.00" y2="226.00" stroke="#231f20" stroke-width="1.00" />
<line x1="105.70" y1="226.00" x2="108.70" y2="226.00" stroke="#231f20" stroke-width="1.00" />
<line x1="121.80" y1="225.30" x2="126.80" y2="225.30" stroke="#231f20" stroke-width="1.10" />
<line x1="124.30" y1="222.80" x2="124.30" y2="227.80" stroke="#231f20" stroke-width="1.10" />
<line x1="139.30" y1="226.00" x2="142.30" y2="226.00" stroke="#231f20" stroke-width="1.00" />
<line x1="73.70" y1="239.10" x2="76.70" y2="239.10" stroke="#231f20" stroke-width="1.00" />
<line x1="91.00" y1="239.10" x2="94.00" y2="239.10" stroke="#231f20" stroke-width="1.00" />
<line x1="105.70" y1="239.10" x2="108.70" y2="239.10" stroke="#231f20" stroke-width="1.00" />
<line x1="122.80" y1="239.10" x2="125.80" y2="239.10" stroke="#231f20" stroke-width="1.00" />
<line x1="138.30" y1="238.40" x2="143.30" y2="238.40" stroke="#231f20" stroke-width="1.10" />
<line x1="140.80" y1="235.90" x2="140.80" y2="240.90" stroke="#231f20" stroke-width="1.10" />
<clipPath id="cA1"><rect x="67.30" y="245.50" width="83.30" height="27.30"/></clipPath>
<rect x="67.30" y="245.50" width="83.30" height="27.30" fill="#f8f8f8" stroke="none" stroke-width="1.00" />
<g clip-path="url(#cA1)">
<rect x="100.00" y="263.00" width="32.00" height="6.00" rx="4.80" ry="3.00" fill="#777" fill-opacity="0.35" filter="url(#bl3)"/>
<rect x="136.00" y="263.00" width="12.00" height="5.00" rx="4.00" ry="2.50" fill="#999" fill-opacity="0.30" filter="url(#bl3)"/>
<rect x="100.00" y="258.30" width="34.00" height="5.80" rx="4.64" ry="2.90" fill="#111" fill-opacity="1.00" filter="url(#bl)"/>
<rect x="117.50" y="258.70" width="15.00" height="5.80" rx="4.64" ry="2.90" fill="#111" fill-opacity="0.80" filter="url(#bl)"/>
<rect x="133.00" y="258.90" width="16.40" height="4.00" rx="3.20" ry="2.00" fill="#111" fill-opacity="0.95" filter="url(#bl)"/>
</g>
<rect x="67.50" y="245.50" width="83.00" height="27.00" fill="none" stroke="#231f20" stroke-width="1.00" />
<clipPath id="cA2"><rect x="67.30" y="277.70" width="83.30" height="23.40"/></clipPath>
<rect x="67.30" y="277.70" width="83.30" height="23.40" fill="#f8f8f8" stroke="none" stroke-width="1.00" />
<g clip-path="url(#cA2)">
<rect x="67.00" y="287.00" width="84.00" height="9.00" rx="7.20" ry="4.50" fill="#666" fill-opacity="0.30" filter="url(#bl3)"/>
<rect x="67.50" y="287.60" width="83.00" height="5.20" rx="4.16" ry="2.60" fill="#111" fill-opacity="0.88" filter="url(#bl)"/>
<rect x="68.00" y="288.80" width="16.00" height="6.80" rx="5.44" ry="3.40" fill="#111" fill-opacity="1.00" filter="url(#bl)"/>
<rect x="84.60" y="289.20" width="15.20" height="4.80" rx="3.84" ry="2.40" fill="#111" fill-opacity="0.80" filter="url(#bl)"/>
<rect x="100.90" y="289.40" width="15.20" height="5.20" rx="4.16" ry="2.60" fill="#111" fill-opacity="0.85" filter="url(#bl)"/>
<rect x="117.00" y="289.90" width="15.20" height="5.20" rx="4.16" ry="2.60" fill="#111" fill-opacity="0.85" filter="url(#bl)"/>
<rect x="133.40" y="289.00" width="15.20" height="5.20" rx="4.16" ry="2.60" fill="#111" fill-opacity="0.90" filter="url(#bl)"/>
</g>
<rect x="67.50" y="277.50" width="83.00" height="24.00" fill="none" stroke="#231f20" stroke-width="1.00" />
<text x="61.60" y="262.45" font-size="7.40" text-anchor="end" fill="#1a1a1a" transform="matrix(1 0 0 1.060 0 -15.747)" >HA</text>
<text x="61.20" y="292.05" font-size="7.40" text-anchor="end" fill="#1a1a1a" transform="matrix(1 0 0 1.060 0 -17.523)" >Tubulin</text>
<line x1="150.60" y1="246.50" x2="158.60" y2="246.50" stroke="#231f20" stroke-width="1.00" />
<text x="161.80" y="249.26" font-size="7.70" text-anchor="start" fill="#1a1a1a" transform="matrix(1 0 0 1.060 0 -14.955)" >48</text>
<line x1="150.60" y1="283.50" x2="158.60" y2="283.50" stroke="#231f20" stroke-width="1.00" />
<text x="161.80" y="286.26" font-size="7.70" text-anchor="start" fill="#1a1a1a" transform="matrix(1 0 0 1.060 0 -17.175)" >63</text>
<text x="268.70" y="220.45" font-size="7.40" text-anchor="middle" fill="#1a1a1a" transform="matrix(1 0 0 1.060 0 -13.227)" >WT</text>
<text x="321.00" y="220.45" font-size="7.40" text-anchor="middle" fill="#1a1a1a" transform="matrix(1 0 0 1.060 0 -13.227)" >Δ1M4</text>
<line x1="261.50" y1="222.30" x2="276.30" y2="222.30" stroke="#6d6e71" stroke-width="1.15" />
<line x1="279.60" y1="222.30" x2="363.50" y2="222.30" stroke="#6d6e71" stroke-width="1.15" />
<text x="255.00" y="233.25" font-size="7.40" text-anchor="end" fill="#1a1a1a" transform="matrix(1 0 0 1.060 0 -13.995)" >ZNT2<tspan font-size="4.51" dy="2.15">(WT)</tspan><tspan dy="-2.15">-HA</tspan></text>
<text x="255.00" y="245.75" font-size="7.40" text-anchor="end" fill="#1a1a1a" transform="matrix(1 0 0 1.060 0 -14.745)" >ZNT2<tspan font-size="4.51" dy="2.15">(H197A)</tspan><tspan dy="-2.15">-HA</tspan></text>
<text x="255.00" y="258.15" font-size="7.40" text-anchor="end" fill="#1a1a1a" transform="matrix(1 0 0 1.060 0 -15.489)" >ZNT2<tspan font-size="4.51" dy="2.15">(H201A)</tspan><tspan dy="-2.15">-HA</tspan></text>
<text x="255.00" y="270.55" font-size="7.40" text-anchor="end" fill="#1a1a1a" transform="matrix(1 0 0 1.060 0 -16.233)" >ZNT2<tspan font-size="4.51" dy="2.15">(H203A)</tspan><tspan dy="-2.15">-HA</tspan></text>
<text x="255.00" y="282.85" font-size="7.40" text-anchor="end" fill="#1a1a1a" transform="matrix(1 0 0 1.060 0 -16.971)" >ZNT2<tspan font-size="4.51" dy="2.15">(H205A)</tspan><tspan dy="-2.15">-HA</tspan></text>
<line x1="267.50" y1="230.60" x2="270.50" y2="230.60" stroke="#231f20" stroke-width="1.00" />
<line x1="282.70" y1="230.60" x2="285.70" y2="230.60" stroke="#231f20" stroke-width="1.00" />
<line x1="296.90" y1="229.90" x2="301.90" y2="229.90" stroke="#231f20" stroke-width="1.10" />
<line x1="299.40" y1="227.40" x2="299.40" y2="232.40" stroke="#231f20" stroke-width="1.10" />
<line x1="313.10" y1="230.60" x2="316.10" y2="230.60" stroke="#231f20" stroke-width="1.00" />
<line x1="327.70" y1="230.60" x2="330.70" y2="230.60" stroke="#231f20" stroke-width="1.00" />
<line x1="342.50" y1="230.60" x2="345.50" y2="230.60" stroke="#231f20" stroke-width="1.00" />
<line x1="357.50" y1="230.60" x2="360.50" y2="230.60" stroke="#231f20" stroke-width="1.00" />
<line x1="267.50" y1="243.10" x2="270.50" y2="243.10" stroke="#231f20" stroke-width="1.00" />
<line x1="282.70" y1="243.10" x2="285.70" y2="243.10" stroke="#231f20" stroke-width="1.00" />
<line x1="297.90" y1="243.10" x2="300.90" y2="243.10" stroke="#231f20" stroke-width="1.00" />
<line x1="312.10" y1="242.40" x2="317.10" y2="242.40" stroke="#231f20" stroke-width="1.10" />
<line x1="314.60" y1="239.90" x2="314.60" y2="244.90" stroke="#231f20" stroke-width="1.10" />
<line x1="327.70" y1="243.10" x2="330.70" y2="243.10" stroke="#231f20" stroke-width="1.00" />
<line x1="342.50" y1="243.10" x2="345.50" y2="243.10" stroke="#231f20" stroke-width="1.00" />
<line x1="357.50" y1="243.10" x2="360.50" y2="243.10" stroke="#231f20" stroke-width="1.00" />
<line x1="267.50" y1="255.50" x2="270.50" y2="255.50" stroke="#231f20" stroke-width="1.00" />
<line x1="282.70" y1="255.50" x2="285.70" y2="255.50" stroke="#231f20" stroke-width="1.00" />
<line x1="297.90" y1="255.50" x2="300.90" y2="255.50" stroke="#231f20" stroke-width="1.00" />
<line x1="313.10" y1="255.50" x2="316.10" y2="255.50" stroke="#231f20" stroke-width="1.00" />
<line x1="326.70" y1="254.80" x2="331.70" y2="254.80" stroke="#231f20" stroke-width="1.10" />
<line x1="329.20" y1="252.30" x2="329.20" y2="257.30" stroke="#231f20" stroke-width="1.10" />
<line x1="342.50" y1="255.50" x2="345.50" y2="255.50" stroke="#231f20" stroke-width="1.00" />
<line x1="357.50" y1="255.50" x2="360.50" y2="255.50" stroke="#231f20" stroke-width="1.00" />
<line x1="267.50" y1="267.90" x2="270.50" y2="267.90" stroke="#231f20" stroke-width="1.00" />
<line x1="282.70" y1="267.90" x2="285.70" y2="267.90" stroke="#231f20" stroke-width="1.00" />
<line x1="297.90" y1="267.90" x2="300.90" y2="267.90" stroke="#231f20" stroke-width="1.00" />
<line x1="313.10" y1="267.90" x2="316.10" y2="267.90" stroke="#231f20" stroke-width="1.00" />
<line x1="327.70" y1="267.90" x2="330.70" y2="267.90" stroke="#231f20" stroke-width="1.00" />
<line x1="341.50" y1="267.20" x2="346.50" y2="267.20" stroke="#231f20" stroke-width="1.10" />
<line x1="344.00" y1="264.70" x2="344.00" y2="269.70" stroke="#231f20" stroke-width="1.10" />
<line x1="357.50" y1="267.90" x2="360.50" y2="267.90" stroke="#231f20" stroke-width="1.00" />
<line x1="267.50" y1="280.20" x2="270.50" y2="280.20" stroke="#231f20" stroke-width="1.00" />
<line x1="282.70" y1="280.20" x2="285.70" y2="280.20" stroke="#231f20" stroke-width="1.00" />
<line x1="297.90" y1="280.20" x2="300.90" y2="280.20" stroke="#231f20" stroke-width="1.00" />
<line x1="313.10" y1="280.20" x2="316.10" y2="280.20" stroke="#231f20" stroke-width="1.00" />
<line x1="327.70" y1="280.20" x2="330.70" y2="280.20" stroke="#231f20" stroke-width="1.00" />
<line x1="342.50" y1="280.20" x2="345.50" y2="280.20" stroke="#231f20" stroke-width="1.00" />
<line x1="356.50" y1="279.50" x2="361.50" y2="279.50" stroke="#231f20" stroke-width="1.10" />
<line x1="359.00" y1="277.00" x2="359.00" y2="282.00" stroke="#231f20" stroke-width="1.10" />
<clipPath id="cB1"><rect x="261.30" y="286.30" width="104.10" height="28.00"/></clipPath>
<rect x="261.30" y="286.30" width="104.10" height="28.00" fill="#f8f8f8" stroke="none" stroke-width="1.00" />
<g clip-path="url(#cB1)">
<rect x="293.40" y="305.00" width="12.00" height="6.00" rx="4.80" ry="3.00" fill="#888" fill-opacity="0.25" filter="url(#bl3)"/>
<rect x="293.00" y="304.50" width="44.00" height="7.00" rx="5.60" ry="3.50" fill="#888" fill-opacity="0.22" filter="url(#bl3)"/>
<rect x="293.60" y="303.30" width="11.60" height="3.00" rx="2.40" ry="1.50" fill="#555" fill-opacity="0.40" filter="url(#bl)"/>
<rect x="293.90" y="308.20" width="11.00" height="2.60" rx="2.08" ry="1.30" fill="#888" fill-opacity="0.25" filter="url(#bl2)"/>
<rect x="307.20" y="301.50" width="15.60" height="5.80" rx="4.64" ry="2.90" fill="#111" fill-opacity="1.00" filter="url(#bl)"/>
<rect x="322.00" y="301.20" width="16.00" height="6.00" rx="4.80" ry="3.00" fill="#111" fill-opacity="1.00" filter="url(#bl)"/>
<rect x="337.00" y="301.10" width="15.60" height="5.80" rx="4.64" ry="2.90" fill="#111" fill-opacity="1.00" filter="url(#bl)"/>
<rect x="353.40" y="302.60" width="11.00" height="2.80" rx="2.24" ry="1.40" fill="#555" fill-opacity="0.50" filter="url(#bl)"/>
<rect x="353.40" y="308.00" width="11.00" height="2.80" rx="2.24" ry="1.40" fill="#555" fill-opacity="0.45" filter="url(#bl)"/>
</g>
<rect x="261.50" y="286.50" width="104.00" height="28.00" fill="none" stroke="#231f20" stroke-width="1.00" />
<clipPath id="cB2"><rect x="261.30" y="319.20" width="104.10" height="22.10"/></clipPath>
<rect x="261.30" y="319.20" width="104.10" height="22.10" fill="#f8f8f8" stroke="none" stroke-width="1.00" />
<g clip-path="url(#cB2)">
<rect x="261.40" y="329.60" width="14.80" height="5.60" rx="4.48" ry="2.80" fill="#111" fill-opacity="0.90" filter="url(#bl)"/>
<rect x="276.90" y="328.90" width="15.60" height="6.60" rx="5.28" ry="3.30" fill="#111" fill-opacity="1.00" filter="url(#bl)"/>
<rect x="292.50" y="329.90" width="14.80" height="5.40" rx="4.32" ry="2.70" fill="#111" fill-opacity="0.85" filter="url(#bl)"/>
<rect x="306.90" y="328.90" width="15.20" height="6.20" rx="4.96" ry="3.10" fill="#111" fill-opacity="0.97" filter="url(#bl)"/>
<rect x="322.00" y="329.20" width="15.20" height="6.00" rx="4.80" ry="3.00" fill="#111" fill-opacity="0.95" filter="url(#bl)"/>
<rect x="336.30" y="329.20" width="14.40" height="6.00" rx="4.80" ry="3.00" fill="#111" fill-opacity="0.93" filter="url(#bl)"/>
<rect x="353.30" y="331.00" width="10.80" height="3.60" rx="2.88" ry="1.80" fill="#444" fill-opacity="0.50" filter="url(#bl)"/>
</g>
<rect x="261.50" y="319.50" width="104.00" height="22.00" fill="none" stroke="#231f20" stroke-width="1.00" />
<text x="255.50" y="302.65" font-size="7.40" text-anchor="end" fill="#1a1a1a" transform="matrix(1 0 0 1.060 0 -18.159)" >HA</text>
<text x="255.50" y="333.35" font-size="7.40" text-anchor="end" fill="#1a1a1a" transform="matrix(1 0 0 1.060 0 -20.001)" >Tubulin</text>
<line x1="365.40" y1="286.50" x2="373.40" y2="286.50" stroke="#231f20" stroke-width="1.00" />
<text x="376.60" y="289.26" font-size="7.70" text-anchor="start" fill="#1a1a1a" transform="matrix(1 0 0 1.060 0 -17.355)" >48</text>
<line x1="365.40" y1="324.50" x2="373.40" y2="324.50" stroke="#231f20" stroke-width="1.00" />
<text x="376.60" y="327.26" font-size="7.70" text-anchor="start" fill="#1a1a1a" transform="matrix(1 0 0 1.060 0 -19.635)" >63</text>
<text x="490.80" y="209.45" font-size="7.40" text-anchor="middle" fill="#1a1a1a" transform="matrix(1 0 0 1.060 0 -12.567)" >WT</text>
<text x="537.60" y="209.45" font-size="7.40" text-anchor="middle" fill="#1a1a1a" transform="matrix(1 0 0 1.060 0 -12.567)" >Δ1M4</text>
<line x1="483.20" y1="212.60" x2="499.20" y2="212.60" stroke="#6d6e71" stroke-width="1.15" />
<line x1="501.20" y1="212.60" x2="574.40" y2="212.60" stroke="#6d6e71" stroke-width="1.15" />
<text x="477.30" y="222.85" font-size="7.40" text-anchor="end" fill="#1a1a1a" transform="matrix(1 0 0 1.060 0 -13.371)" >ZNT2<tspan font-size="4.51" dy="2.15">(WT)</tspan><tspan dy="-2.15">-HA</tspan></text>
<text x="477.30" y="235.35" font-size="7.40" text-anchor="end" fill="#1a1a1a" transform="matrix(1 0 0 1.060 0 -14.121)" >ZNT2<tspan font-size="4.20" dy="2.15">(H201A/H203A)</tspan><tspan dy="-2.15">-HA</tspan></text>
<text x="477.30" y="247.75" font-size="7.40" text-anchor="end" fill="#1a1a1a" transform="matrix(1 0 0 1.060 0 -14.865)" >ZNT2<tspan font-size="4.20" dy="2.15">(H201A/H205A)</tspan><tspan dy="-2.15">-HA</tspan></text>
<text x="477.30" y="260.05" font-size="7.40" text-anchor="end" fill="#1a1a1a" transform="matrix(1 0 0 1.060 0 -15.603)" >ZNT2<tspan font-size="4.20" dy="2.15">(H203A/H205A)</tspan><tspan dy="-2.15">-HA</tspan></text>
<line x1="489.20" y1="220.20" x2="492.20" y2="220.20" stroke="#231f20" stroke-width="1.00" />
<line x1="504.10" y1="220.20" x2="507.10" y2="220.20" stroke="#231f20" stroke-width="1.00" />
<line x1="518.00" y1="219.50" x2="523.00" y2="219.50" stroke="#231f20" stroke-width="1.10" />
<line x1="520.50" y1="217.00" x2="520.50" y2="222.00" stroke="#231f20" stroke-width="1.10" />
<line x1="533.90" y1="220.20" x2="536.90" y2="220.20" stroke="#231f20" stroke-width="1.00" />
<line x1="549.00" y1="220.20" x2="552.00" y2="220.20" stroke="#231f20" stroke-width="1.00" />
<line x1="564.50" y1="220.20" x2="567.50" y2="220.20" stroke="#231f20" stroke-width="1.00" />
<line x1="489.20" y1="232.70" x2="492.20" y2="232.70" stroke="#231f20" stroke-width="1.00" />
<line x1="504.10" y1="232.70" x2="507.10" y2="232.70" stroke="#231f20" stroke-width="1.00" />
<line x1="519.00" y1="232.70" x2="522.00" y2="232.70" stroke="#231f20" stroke-width="1.00" />
<line x1="532.90" y1="232.00" x2="537.90" y2="232.00" stroke="#231f20" stroke-width="1.10" />
<line x1="535.40" y1="229.50" x2="535.40" y2="234.50" stroke="#231f20" stroke-width="1.10" />
<line x1="549.00" y1="232.70" x2="552.00" y2="232.70" stroke="#231f20" stroke-width="1.00" />
<line x1="564.50" y1="232.70" x2="567.50" y2="232.70" stroke="#231f20" stroke-width="1.00" />
<line x1="489.20" y1="245.10" x2="492.20" y2="245.10" stroke="#231f20" stroke-width="1.00" />
<line x1="504.10" y1="245.10" x2="507.10" y2="245.10" stroke="#231f20" stroke-width="1.00" />
<line x1="519.00" y1="245.10" x2="522.00" y2="245.10" stroke="#231f20" stroke-width="1.00" />
<line x1="533.90" y1="245.10" x2="536.90" y2="245.10" stroke="#231f20" stroke-width="1.00" />
<line x1="548.00" y1="244.40" x2="553.00" y2="244.40" stroke="#231f20" stroke-width="1.10" />
<line x1="550.50" y1="241.90" x2="550.50" y2="246.90" stroke="#231f20" stroke-width="1.10" />
<line x1="564.50" y1="245.10" x2="567.50" y2="245.10" stroke="#231f20" stroke-width="1.00" />
<line x1="489.20" y1="257.40" x2="492.20" y2="257.40" stroke="#231f20" stroke-width="1.00" />
<line x1="504.10" y1="257.40" x2="507.10" y2="257.40" stroke="#231f20" stroke-width="1.00" />
<line x1="519.00" y1="257.40" x2="522.00" y2="257.40" stroke="#231f20" stroke-width="1.00" />
<line x1="533.90" y1="257.40" x2="536.90" y2="257.40" stroke="#231f20" stroke-width="1.00" />
<line x1="549.00" y1="257.40" x2="552.00" y2="257.40" stroke="#231f20" stroke-width="1.00" />
<line x1="563.50" y1="256.70" x2="568.50" y2="256.70" stroke="#231f20" stroke-width="1.10" />
<line x1="566.00" y1="254.20" x2="566.00" y2="259.20" stroke="#231f20" stroke-width="1.10" />
<clipPath id="cC1"><rect x="483.40" y="262.80" width="91.40" height="28.00"/></clipPath>
<rect x="483.40" y="262.80" width="91.40" height="28.00" fill="#f8f8f8" stroke="none" stroke-width="1.00" />
<g clip-path="url(#cC1)">
<rect x="513.50" y="279.10" width="14.00" height="3.80" rx="3.04" ry="1.90" fill="#222" fill-opacity="0.80" filter="url(#bl)"/>
<rect x="528.40" y="278.90" width="14.00" height="3.60" rx="2.88" ry="1.80" fill="#222" fill-opacity="0.80" filter="url(#bl)"/>
<rect x="543.50" y="279.70" width="14.00" height="3.00" rx="2.40" ry="1.50" fill="#444" fill-opacity="0.60" filter="url(#bl)"/>
<rect x="559.00" y="279.40" width="14.00" height="3.20" rx="2.56" ry="1.60" fill="#444" fill-opacity="0.65" filter="url(#bl)"/>
<rect x="514.50" y="284.90" width="12.00" height="3.00" rx="2.40" ry="1.50" fill="#777" fill-opacity="0.45" filter="url(#bl)"/>
<rect x="529.40" y="285.10" width="12.00" height="2.60" rx="2.08" ry="1.30" fill="#999" fill-opacity="0.30" filter="url(#bl)"/>
<rect x="544.50" y="285.10" width="12.00" height="2.60" rx="2.08" ry="1.30" fill="#999" fill-opacity="0.25" filter="url(#bl)"/>
<rect x="560.00" y="285.10" width="12.00" height="2.60" rx="2.08" ry="1.30" fill="#999" fill-opacity="0.30" filter="url(#bl)"/>
</g>
<rect x="483.50" y="262.50" width="91.00" height="28.00" fill="none" stroke="#231f20" stroke-width="1.00" />
<clipPath id="cC2"><rect x="483.40" y="296.50" width="91.40" height="21.90"/></clipPath>
<rect x="483.40" y="296.50" width="91.40" height="21.90" fill="#f8f8f8" stroke="none" stroke-width="1.00" />
<g clip-path="url(#cC2)">
<rect x="483.30" y="305.20" width="14.80" height="6.00" rx="4.80" ry="3.00" fill="#111" fill-opacity="1.00" filter="url(#bl)"/>
<rect x="498.20" y="304.90" width="14.80" height="6.20" rx="4.96" ry="3.10" fill="#111" fill-opacity="1.00" filter="url(#bl)"/>
<rect x="513.10" y="305.60" width="14.80" height="5.20" rx="4.16" ry="2.60" fill="#111" fill-opacity="0.85" filter="url(#bl)"/>
<rect x="528.00" y="305.00" width="14.80" height="5.60" rx="4.48" ry="2.80" fill="#111" fill-opacity="0.95" filter="url(#bl)"/>
<rect x="544.00" y="306.40" width="13.00" height="4.00" rx="3.20" ry="2.00" fill="#333" fill-opacity="0.60" filter="url(#bl)"/>
<rect x="559.00" y="305.80" width="14.00" height="4.40" rx="3.52" ry="2.20" fill="#222" fill-opacity="0.75" filter="url(#bl)"/>
</g>
<rect x="483.50" y="296.50" width="91.00" height="22.00" fill="none" stroke="#231f20" stroke-width="1.00" />
<text x="477.30" y="279.35" font-size="7.40" text-anchor="end" fill="#1a1a1a" transform="matrix(1 0 0 1.060 0 -16.761)" >HA</text>
<text x="477.30" y="309.95" font-size="7.40" text-anchor="end" fill="#1a1a1a" transform="matrix(1 0 0 1.060 0 -18.597)" >Tubulin</text>
<line x1="574.80" y1="262.50" x2="582.30" y2="262.50" stroke="#231f20" stroke-width="1.00" />
<text x="585.50" y="265.26" font-size="7.70" text-anchor="start" fill="#1a1a1a" transform="matrix(1 0 0 1.060 0 -15.915)" >48</text>
<line x1="574.80" y1="301.50" x2="582.30" y2="301.50" stroke="#231f20" stroke-width="1.00" />
<text x="585.50" y="304.26" font-size="7.70" text-anchor="start" fill="#1a1a1a" transform="matrix(1 0 0 1.060 0 -18.255)" >63</text>
<text x="91.20" y="547.25" font-size="7.40" text-anchor="middle" fill="#1a1a1a" transform="matrix(1 0 0 1.060 0 -32.835)" >WT</text>
<text x="132.60" y="547.25" font-size="7.40" text-anchor="middle" fill="#1a1a1a" transform="matrix(1 0 0 1.060 0 -32.835)" >Δ1M4</text>
<line x1="83.50" y1="549.10" x2="99.30" y2="549.10" stroke="#6d6e71" stroke-width="1.15" />
<line x1="101.60" y1="549.10" x2="163.60" y2="549.10" stroke="#6d6e71" stroke-width="1.15" />
<text x="79.10" y="558.45" font-size="7.40" text-anchor="end" fill="#1a1a1a" transform="matrix(1 0 0 1.060 0 -33.507)" >ZNT2<tspan font-size="4.51" dy="2.15">(WT)</tspan><tspan dy="-2.15">-HA</tspan></text>
<text x="79.10" y="570.95" font-size="7.40" text-anchor="end" fill="#1a1a1a" transform="matrix(1 0 0 1.060 0 -34.257)" >ZNT2<tspan font-size="4.20" dy="2.15">(Loop3H-3A)</tspan><tspan dy="-2.15">-HA</tspan></text>
<text x="79.10" y="582.85" font-size="7.40" text-anchor="end" fill="#1a1a1a" transform="matrix(1 0 0 1.060 0 -34.971)" >ZNT2<tspan font-size="4.20" dy="2.15">(Loop4H-4A)</tspan><tspan dy="-2.15">-HA</tspan></text>
<line x1="90.00" y1="555.80" x2="93.00" y2="555.80" stroke="#231f20" stroke-width="1.00" />
<line x1="106.50" y1="555.80" x2="109.50" y2="555.80" stroke="#231f20" stroke-width="1.00" />
<line x1="121.00" y1="555.10" x2="126.00" y2="555.10" stroke="#231f20" stroke-width="1.10" />
<line x1="123.50" y1="552.60" x2="123.50" y2="557.60" stroke="#231f20" stroke-width="1.10" />
<line x1="138.00" y1="555.80" x2="141.00" y2="555.80" stroke="#231f20" stroke-width="1.00" />
<line x1="154.10" y1="555.80" x2="157.10" y2="555.80" stroke="#231f20" stroke-width="1.00" />
<line x1="90.00" y1="568.30" x2="93.00" y2="568.30" stroke="#231f20" stroke-width="1.00" />
<line x1="106.50" y1="568.30" x2="109.50" y2="568.30" stroke="#231f20" stroke-width="1.00" />
<line x1="122.00" y1="568.30" x2="125.00" y2="568.30" stroke="#231f20" stroke-width="1.00" />
<line x1="137.00" y1="567.60" x2="142.00" y2="567.60" stroke="#231f20" stroke-width="1.10" />
<line x1="139.50" y1="565.10" x2="139.50" y2="570.10" stroke="#231f20" stroke-width="1.10" />
<line x1="154.10" y1="568.30" x2="157.10" y2="568.30" stroke="#231f20" stroke-width="1.00" />
<line x1="90.00" y1="580.20" x2="93.00" y2="580.20" stroke="#231f20" stroke-width="1.00" />
<line x1="106.50" y1="580.20" x2="109.50" y2="580.20" stroke="#231f20" stroke-width="1.00" />
<line x1="122.00" y1="580.20" x2="125.00" y2="580.20" stroke="#231f20" stroke-width="1.00" />
<line x1="138.00" y1="580.20" x2="141.00" y2="580.20" stroke="#231f20" stroke-width="1.00" />
<line x1="153.10" y1="579.50" x2="158.10" y2="579.50" stroke="#231f20" stroke-width="1.10" />
<line x1="155.60" y1="577.00" x2="155.60" y2="582.00" stroke="#231f20" stroke-width="1.10" />
<clipPath id="cD1"><rect x="83.30" y="587.70" width="80.20" height="23.00"/></clipPath>
<rect x="83.30" y="587.70" width="80.20" height="23.00" fill="#f8f8f8" stroke="none" stroke-width="1.00" />
<g clip-path="url(#cD1)">
<rect x="116.00" y="601.50" width="46.00" height="6.00" rx="4.80" ry="3.00" fill="#888" fill-opacity="0.25" filter="url(#bl3)"/>
<rect x="115.80" y="599.60" width="46.40" height="4.80" rx="3.84" ry="2.40" fill="#111" fill-opacity="1.00" filter="url(#bl)"/>
<rect x="116.50" y="599.10" width="15.00" height="5.40" rx="4.32" ry="2.70" fill="#111" fill-opacity="0.90" filter="url(#bl)"/>
<rect x="147.00" y="599.50" width="15.00" height="5.00" rx="4.00" ry="2.50" fill="#111" fill-opacity="0.80" filter="url(#bl)"/>
</g>
<rect x="83.50" y="587.50" width="80.00" height="23.00" fill="none" stroke="#231f20" stroke-width="1.00" />
<clipPath id="cD2"><rect x="83.30" y="616.30" width="80.20" height="22.10"/></clipPath>
<rect x="83.30" y="616.30" width="80.20" height="22.10" fill="#f8f8f8" stroke="none" stroke-width="1.00" />
<g clip-path="url(#cD2)">
<rect x="83.00" y="623.40" width="80.00" height="8.00" rx="6.40" ry="4.00" fill="#666" fill-opacity="0.35" filter="url(#bl3)"/>
<rect x="82.90" y="625.00" width="17.20" height="5.60" rx="4.48" ry="2.80" fill="#444" fill-opacity="0.60" filter="url(#bl)"/>
<rect x="99.10" y="624.60" width="17.20" height="5.60" rx="4.48" ry="2.80" fill="#333" fill-opacity="0.68" filter="url(#bl)"/>
<rect x="114.90" y="624.20" width="17.20" height="6.00" rx="4.80" ry="3.00" fill="#111" fill-opacity="0.85" filter="url(#bl)"/>
<rect x="130.90" y="624.40" width="17.20" height="6.00" rx="4.80" ry="3.00" fill="#111" fill-opacity="0.80" filter="url(#bl)"/>
<rect x="146.90" y="624.00" width="17.20" height="6.00" rx="4.80" ry="3.00" fill="#111" fill-opacity="0.88" filter="url(#bl)"/>
</g>
<rect x="83.50" y="616.50" width="80.00" height="22.00" fill="none" stroke="#231f20" stroke-width="1.00" />
<text x="79.50" y="600.65" font-size="7.40" text-anchor="end" fill="#1a1a1a" transform="matrix(1 0 0 1.060 0 -36.039)" >HA</text>
<text x="79.50" y="630.05" font-size="7.40" text-anchor="end" fill="#1a1a1a" transform="matrix(1 0 0 1.060 0 -37.803)" >Tubulin</text>
<line x1="163.50" y1="587.50" x2="171.00" y2="587.50" stroke="#231f20" stroke-width="1.00" />
<text x="174.20" y="590.26" font-size="7.70" text-anchor="start" fill="#1a1a1a" transform="matrix(1 0 0 1.060 0 -35.415)" >48</text>
<line x1="163.50" y1="622.50" x2="171.00" y2="622.50" stroke="#231f20" stroke-width="1.00" />
<text x="174.20" y="625.26" font-size="7.70" text-anchor="start" fill="#1a1a1a" transform="matrix(1 0 0 1.060 0 -37.515)" >63</text>
<text x="309.30" y="533.65" font-size="7.40" text-anchor="middle" fill="#1a1a1a" transform="matrix(1 0 0 1.060 0 -32.019)" >WT</text>
<text x="341.20" y="533.65" font-size="7.40" text-anchor="middle" fill="#1a1a1a" transform="matrix(1 0 0 1.060 0 -32.019)" >Δ1M4</text>
<line x1="302.40" y1="536.00" x2="317.70" y2="536.00" stroke="#6d6e71" stroke-width="1.15" />
<line x1="320.40" y1="536.00" x2="362.90" y2="536.00" stroke="#6d6e71" stroke-width="1.15" />
<text x="296.30" y="545.55" font-size="7.40" text-anchor="end" fill="#1a1a1a" transform="matrix(1 0 0 1.060 0 -32.733)" >ZNT2<tspan font-size="4.51" dy="2.15">(WT)</tspan><tspan dy="-2.15">-FLAG</tspan></text>
<text x="296.30" y="557.45" font-size="7.40" text-anchor="end" fill="#1a1a1a" transform="matrix(1 0 0 1.060 0 -33.447)" >ZNT2<tspan font-size="4.20" dy="2.15">(Δ201-205)</tspan><tspan dy="-2.15">-FLAG</tspan></text>
<line x1="307.20" y1="542.90" x2="310.20" y2="542.90" stroke="#231f20" stroke-width="1.00" />
<line x1="322.70" y1="542.90" x2="325.70" y2="542.90" stroke="#231f20" stroke-width="1.00" />
<line x1="337.80" y1="542.20" x2="342.80" y2="542.20" stroke="#231f20" stroke-width="1.10" />
<line x1="340.30" y1="539.70" x2="340.30" y2="544.70" stroke="#231f20" stroke-width="1.10" />
<line x1="355.10" y1="542.90" x2="358.10" y2="542.90" stroke="#231f20" stroke-width="1.00" />
<line x1="307.20" y1="554.80" x2="310.20" y2="554.80" stroke="#231f20" stroke-width="1.00" />
<line x1="322.70" y1="554.80" x2="325.70" y2="554.80" stroke="#231f20" stroke-width="1.00" />
<line x1="338.80" y1="554.80" x2="341.80" y2="554.80" stroke="#231f20" stroke-width="1.00" />
<line x1="354.10" y1="554.10" x2="359.10" y2="554.10" stroke="#231f20" stroke-width="1.10" />
<line x1="356.60" y1="551.60" x2="356.60" y2="556.60" stroke="#231f20" stroke-width="1.10" />
<clipPath id="cE1"><rect x="299.60" y="561.90" width="63.80" height="23.60"/></clipPath>
<rect x="299.60" y="561.90" width="63.80" height="23.60" fill="#f8f8f8" stroke="none" stroke-width="1.00" />
<g clip-path="url(#cE1)">
<rect x="336.00" y="575.00" width="28.00" height="6.00" rx="4.80" ry="3.00" fill="#888" fill-opacity="0.30" filter="url(#bl3)"/>
<rect x="334.00" y="576.10" width="14.00" height="3.40" rx="2.72" ry="1.70" fill="#444" fill-opacity="0.55" filter="url(#bl)"/>
<rect x="349.20" y="574.00" width="14.80" height="6.00" rx="4.80" ry="3.00" fill="#111" fill-opacity="1.00" filter="url(#bl)"/>
<rect x="346.00" y="574.50" width="9.00" height="3.00" rx="2.40" ry="1.50" fill="#333" fill-opacity="0.50" filter="url(#bl)"/>
</g>
<rect x="299.50" y="561.50" width="64.00" height="24.00" fill="none" stroke="#231f20" stroke-width="1.00" />
<clipPath id="cE2"><rect x="299.60" y="591.60" width="63.80" height="22.70"/></clipPath>
<rect x="299.60" y="591.60" width="63.80" height="22.70" fill="#f8f8f8" stroke="none" stroke-width="1.00" />
<g clip-path="url(#cE2)">
<rect x="300.00" y="599.20" width="62.00" height="7.20" rx="5.76" ry="3.60" fill="#555" fill-opacity="0.35" filter="url(#bl3)"/>
<rect x="299.20" y="601.00" width="17.60" height="6.00" rx="4.80" ry="3.00" fill="#111" fill-opacity="0.95" filter="url(#bl)"/>
<rect x="315.40" y="600.40" width="17.60" height="5.60" rx="4.48" ry="2.80" fill="#111" fill-opacity="0.88" filter="url(#bl)"/>
<rect x="331.50" y="599.70" width="17.60" height="5.80" rx="4.64" ry="2.90" fill="#111" fill-opacity="0.90" filter="url(#bl)"/>
<rect x="347.80" y="598.50" width="17.60" height="6.20" rx="4.96" ry="3.10" fill="#111" fill-opacity="0.97" filter="url(#bl)"/>
</g>
<rect x="299.50" y="591.50" width="64.00" height="23.00" fill="none" stroke="#231f20" stroke-width="1.00" />
<text x="295.40" y="576.22" font-size="7.60" text-anchor="end" fill="#1a1a1a" transform="matrix(1 0 0 1.060 0 -34.573)" >FLAG</text>
<text x="295.40" y="605.42" font-size="7.60" text-anchor="end" fill="#1a1a1a" transform="matrix(1 0 0 1.060 0 -36.325)" >Tubulin</text>
<line x1="363.40" y1="562.50" x2="371.40" y2="562.50" stroke="#231f20" stroke-width="1.00" />
<text x="374.60" y="565.26" font-size="7.70" text-anchor="start" fill="#1a1a1a" transform="matrix(1 0 0 1.060 0 -33.915)" >48</text>
<line x1="363.40" y1="596.50" x2="371.40" y2="596.50" stroke="#231f20" stroke-width="1.00" />
<text x="374.60" y="599.26" font-size="7.70" text-anchor="start" fill="#1a1a1a" transform="matrix(1 0 0 1.060 0 -35.955)" >63</text>
<text x="510.00" y="533.52" font-size="7.60" text-anchor="middle" fill="#1a1a1a" transform="matrix(1 0 0 1.060 0 -32.011)" >ZNT2<tspan font-size="4.64" dy="2.20">(WT)</tspan><tspan dy="-2.20">-HA</tspan></text>
<line x1="479.70" y1="539.50" x2="540.40" y2="539.50" stroke="#414042" stroke-width="1.00" />
<text x="487.20" y="548.73" font-size="7.90" text-anchor="middle" fill="#1a1a1a" transform="matrix(1 0 0 1.060 0 -32.924)" >0</text>
<text x="502.00" y="548.73" font-size="7.90" text-anchor="middle" fill="#1a1a1a" transform="matrix(1 0 0 1.060 0 -32.924)" >2</text>
<text x="517.30" y="548.73" font-size="7.90" text-anchor="middle" fill="#1a1a1a" transform="matrix(1 0 0 1.060 0 -32.924)" >4</text>
<text x="532.20" y="548.73" font-size="7.90" text-anchor="middle" fill="#1a1a1a" transform="matrix(1 0 0 1.060 0 -32.924)" >8</text>
<clipPath id="cF1a"><rect x="479.70" y="550.60" width="60.70" height="23.00"/></clipPath>
<rect x="479.70" y="550.60" width="60.70" height="23.00" fill="#f0f0f0" stroke="none" stroke-width="1.00" />
<g clip-path="url(#cF1a)">
<rect x="480.00" y="564.50" width="60.00" height="6.00" rx="4.80" ry="3.00" fill="#999" fill-opacity="0.30" filter="url(#bl3)"/>
<rect x="480.20" y="561.20" width="14.40" height="3.40" rx="2.72" ry="1.70" fill="#111" fill-opacity="0.90" filter="url(#bl)"/>
<rect x="494.60" y="561.60" width="14.80" height="3.40" rx="2.72" ry="1.70" fill="#333" fill-opacity="0.70" filter="url(#bl)"/>
<rect x="509.90" y="561.60" width="14.80" height="3.40" rx="2.72" ry="1.70" fill="#333" fill-opacity="0.70" filter="url(#bl)"/>
<rect x="525.00" y="562.00" width="14.40" height="3.20" rx="2.56" ry="1.60" fill="#444" fill-opacity="0.60" filter="url(#bl)"/>
</g>
<rect x="479.50" y="550.50" width="61.00" height="23.00" fill="none" stroke="#231f20" stroke-width="1.00" />
<clipPath id="cF1b"><rect x="479.70" y="579.80" width="60.70" height="22.40"/></clipPath>
<rect x="479.70" y="579.80" width="60.70" height="22.40" fill="#f2f2f2" stroke="none" stroke-width="1.00" />
<g clip-path="url(#cF1b)">
<rect x="480.00" y="586.00" width="60.00" height="10.00" rx="8.00" ry="5.00" fill="#666" fill-opacity="0.40" filter="url(#bl3)"/>
<rect x="479.00" y="589.00" width="16.80" height="6.00" rx="4.80" ry="3.00" fill="#111" fill-opacity="0.80" filter="url(#bl)"/>
<rect x="493.60" y="589.40" width="16.80" height="6.40" rx="5.12" ry="3.20" fill="#111" fill-opacity="0.88" filter="url(#bl)"/>
<rect x="508.90" y="589.20" width="16.80" height="6.40" rx="5.12" ry="3.20" fill="#111" fill-opacity="0.88" filter="url(#bl)"/>
<rect x="523.80" y="589.20" width="16.80" height="6.80" rx="5.44" ry="3.40" fill="#111" fill-opacity="0.95" filter="url(#bl)"/>
</g>
<rect x="479.50" y="579.50" width="61.00" height="23.00" fill="none" stroke="#231f20" stroke-width="1.00" />
<text x="474.80" y="549.09" font-size="7.80" text-anchor="end" fill="#1a1a1a" transform="matrix(1 0 0 1.060 0 -32.946)" >CHX (hour)</text>
<text x="474.60" y="564.32" font-size="7.60" text-anchor="end" fill="#1a1a1a" transform="matrix(1 0 0 1.060 0 -33.859)" >ZNT2</text>
<text x="474.00" y="593.26" font-size="7.70" text-anchor="end" fill="#1a1a1a" transform="matrix(1 0 0 1.060 0 -35.595)" >Tubulin</text>
<line x1="540.40" y1="552.50" x2="548.20" y2="552.50" stroke="#231f20" stroke-width="1.00" />
<text x="551.40" y="555.26" font-size="7.70" text-anchor="start" fill="#1a1a1a" transform="matrix(1 0 0 1.060 0 -33.315)" >48</text>
<line x1="540.40" y1="582.50" x2="548.20" y2="582.50" stroke="#231f20" stroke-width="1.00" />
<text x="551.40" y="585.26" font-size="7.70" text-anchor="start" fill="#1a1a1a" transform="matrix(1 0 0 1.060 0 -35.115)" >63</text>
<text x="598.00" y="533.72" font-size="7.60" text-anchor="middle" fill="#1a1a1a" transform="matrix(1 0 0 1.060 0 -32.023)" >ZNT2<tspan font-size="4.31" dy="2.20">(Loop4H-4A)</tspan><tspan dy="-2.20">-HA</tspan></text>
<line x1="567.50" y1="539.50" x2="629.00" y2="539.50" stroke="#414042" stroke-width="1.00" />
<text x="575.90" y="548.73" font-size="7.90" text-anchor="middle" fill="#1a1a1a" transform="matrix(1 0 0 1.060 0 -32.924)" >0</text>
<text x="589.00" y="548.73" font-size="7.90" text-anchor="middle" fill="#1a1a1a" transform="matrix(1 0 0 1.060 0 -32.924)" >2</text>
<text x="604.10" y="548.73" font-size="7.90" text-anchor="middle" fill="#1a1a1a" transform="matrix(1 0 0 1.060 0 -32.924)" >4</text>
<text x="618.30" y="548.73" font-size="7.90" text-anchor="middle" fill="#1a1a1a" transform="matrix(1 0 0 1.060 0 -32.924)" >8</text>
<clipPath id="cF2a"><rect x="567.50" y="550.40" width="61.50" height="23.30"/></clipPath>
<rect x="567.50" y="550.40" width="61.50" height="23.30" fill="#f0f0f0" stroke="none" stroke-width="1.00" />
<g clip-path="url(#cF2a)">
<rect x="568.00" y="564.50" width="60.00" height="6.00" rx="4.80" ry="3.00" fill="#aaa" fill-opacity="0.25" filter="url(#bl3)"/>
<rect x="569.50" y="562.00" width="11.00" height="3.20" rx="2.56" ry="1.60" fill="#333" fill-opacity="0.60" filter="url(#bl)"/>
<rect x="583.50" y="562.60" width="11.00" height="2.40" rx="1.92" ry="1.20" fill="#666" fill-opacity="0.30" filter="url(#bl)"/>
<rect x="598.60" y="562.60" width="11.00" height="2.40" rx="1.92" ry="1.20" fill="#666" fill-opacity="0.30" filter="url(#bl)"/>
<rect x="612.80" y="562.60" width="11.00" height="2.40" rx="1.92" ry="1.20" fill="#666" fill-opacity="0.30" filter="url(#bl)"/>
<rect x="570.00" y="566.20" width="10.00" height="2.60" rx="2.08" ry="1.30" fill="#888" fill-opacity="0.30" filter="url(#bl)"/>
</g>
<rect x="567.50" y="550.50" width="61.00" height="23.00" fill="none" stroke="#231f20" stroke-width="1.00" />
<clipPath id="cF2b"><rect x="567.50" y="580.30" width="61.50" height="22.30"/></clipPath>
<rect x="567.50" y="580.30" width="61.50" height="22.30" fill="#f2f2f2" stroke="none" stroke-width="1.00" />
<g clip-path="url(#cF2b)">
<rect x="568.00" y="586.50" width="60.00" height="10.00" rx="8.00" ry="5.00" fill="#777" fill-opacity="0.35" filter="url(#bl3)"/>
<rect x="567.90" y="590.00" width="16.00" height="5.60" rx="4.48" ry="2.80" fill="#222" fill-opacity="0.70" filter="url(#bl)"/>
<rect x="581.40" y="590.70" width="15.20" height="5.00" rx="4.00" ry="2.50" fill="#333" fill-opacity="0.55" filter="url(#bl)"/>
<rect x="596.10" y="589.00" width="16.00" height="7.20" rx="5.76" ry="3.60" fill="#111" fill-opacity="0.95" filter="url(#bl)"/>
<rect x="610.30" y="588.80" width="16.00" height="7.60" rx="6.08" ry="3.80" fill="#111" fill-opacity="1.00" filter="url(#bl)"/>
</g>
<rect x="567.50" y="580.50" width="61.00" height="22.00" fill="none" stroke="#231f20" stroke-width="1.00" />
<line x1="629.00" y1="550.50" x2="637.00" y2="550.50" stroke="#231f20" stroke-width="1.00" />
<text x="640.20" y="553.26" font-size="7.70" text-anchor="start" fill="#1a1a1a" transform="matrix(1 0 0 1.060 0 -33.195)" >48</text>
<line x1="629.00" y1="582.50" x2="637.00" y2="582.50" stroke="#231f20" stroke-width="1.00" />
<text x="640.20" y="585.26" font-size="7.70" text-anchor="start" fill="#1a1a1a" transform="matrix(1 0 0 1.060 0 -35.115)" >63</text>
<text x="509.50" y="616.12" font-size="7.60" text-anchor="middle" fill="#1a1a1a" transform="matrix(1 0 0 1.060 0 -36.967)" >ZNT2<tspan font-size="4.31" dy="2.20">(Δ201-205)</tspan><tspan dy="-2.20">-FLAG</tspan></text>
<line x1="479.70" y1="621.50" x2="540.40" y2="621.50" stroke="#414042" stroke-width="1.00" />
<text x="487.60" y="630.43" font-size="7.90" text-anchor="middle" fill="#1a1a1a" transform="matrix(1 0 0 1.060 0 -37.826)" >0</text>
<text x="503.00" y="630.43" font-size="7.90" text-anchor="middle" fill="#1a1a1a" transform="matrix(1 0 0 1.060 0 -37.826)" >2</text>
<text x="519.20" y="630.43" font-size="7.90" text-anchor="middle" fill="#1a1a1a" transform="matrix(1 0 0 1.060 0 -37.826)" >4</text>
<text x="533.90" y="630.43" font-size="7.90" text-anchor="middle" fill="#1a1a1a" transform="matrix(1 0 0 1.060 0 -37.826)" >8</text>
<clipPath id="cF3a"><rect x="479.70" y="632.80" width="60.70" height="23.70"/></clipPath>
<rect x="479.70" y="632.80" width="60.70" height="23.70" fill="#f0f0f0" stroke="none" stroke-width="1.00" />
<g clip-path="url(#cF3a)">
<rect x="480.40" y="644.00" width="14.40" height="4.00" rx="3.20" ry="2.00" fill="#111" fill-opacity="0.95" filter="url(#bl)"/>
<rect x="496.20" y="644.40" width="13.60" height="3.60" rx="2.88" ry="1.80" fill="#111" fill-opacity="0.85" filter="url(#bl)"/>
<rect x="512.40" y="644.50" width="13.60" height="3.00" rx="2.40" ry="1.50" fill="#444" fill-opacity="0.55" filter="url(#bl)"/>
<rect x="527.40" y="644.70" width="13.00" height="2.60" rx="2.08" ry="1.30" fill="#666" fill-opacity="0.35" filter="url(#bl)"/>
</g>
<rect x="479.50" y="632.50" width="61.00" height="24.00" fill="none" stroke="#231f20" stroke-width="1.00" />
<clipPath id="cF3b"><rect x="479.70" y="662.60" width="60.70" height="22.00"/></clipPath>
<rect x="479.70" y="662.60" width="60.70" height="22.00" fill="#f2f2f2" stroke="none" stroke-width="1.00" />
<g clip-path="url(#cF3b)">
<rect x="480.00" y="669.00" width="60.00" height="8.00" rx="6.40" ry="4.00" fill="#555" fill-opacity="0.35" filter="url(#bl3)"/>
<rect x="479.20" y="669.30" width="16.80" height="6.60" rx="5.28" ry="3.30" fill="#111" fill-opacity="1.00" filter="url(#bl)"/>
<rect x="494.60" y="670.10" width="16.80" height="6.20" rx="4.96" ry="3.10" fill="#111" fill-opacity="0.88" filter="url(#bl)"/>
<rect x="510.80" y="669.90" width="16.80" height="6.20" rx="4.96" ry="3.10" fill="#111" fill-opacity="0.88" filter="url(#bl)"/>
<rect x="525.50" y="669.80" width="16.80" height="6.40" rx="5.12" ry="3.20" fill="#111" fill-opacity="0.92" filter="url(#bl)"/>
</g>
<rect x="479.50" y="662.50" width="61.00" height="22.00" fill="none" stroke="#231f20" stroke-width="1.00" />
<text x="474.80" y="630.79" font-size="7.80" text-anchor="end" fill="#1a1a1a" transform="matrix(1 0 0 1.060 0 -37.848)" >CHX (hour)</text>
<text x="474.60" y="646.92" font-size="7.60" text-anchor="end" fill="#1a1a1a" transform="matrix(1 0 0 1.060 0 -38.815)" >ZNT2</text>
<text x="474.00" y="676.56" font-size="7.70" text-anchor="end" fill="#1a1a1a" transform="matrix(1 0 0 1.060 0 -40.593)" >Tubulin</text>
<line x1="540.40" y1="656.50" x2="548.90" y2="656.50" stroke="#231f20" stroke-width="1.00" />
<text x="552.10" y="658.56" font-size="7.70" text-anchor="start" fill="#1a1a1a" transform="matrix(1 0 0 1.060 0 -39.513)" >35</text>
<line x1="540.40" y1="662.50" x2="548.90" y2="662.50" stroke="#231f20" stroke-width="1.00" />
<text x="552.10" y="666.26" font-size="7.70" text-anchor="start" fill="#1a1a1a" transform="matrix(1 0 0 1.060 0 -39.975)" >63</text>
<text x="599.70" y="616.02" font-size="7.60" text-anchor="middle" fill="#1a1a1a" transform="matrix(1 0 0 1.060 0 -36.961)" >ZNT2<tspan font-size="4.64" dy="2.20">(G280R)</tspan><tspan dy="-2.20">-HA</tspan></text>
<line x1="567.50" y1="622.50" x2="629.00" y2="622.50" stroke="#414042" stroke-width="1.00" />
<text x="576.20" y="630.73" font-size="7.90" text-anchor="middle" fill="#1a1a1a" transform="matrix(1 0 0 1.060 0 -37.844)" >0</text>
<text x="590.00" y="630.73" font-size="7.90" text-anchor="middle" fill="#1a1a1a" transform="matrix(1 0 0 1.060 0 -37.844)" >2</text>
<text x="604.50" y="630.73" font-size="7.90" text-anchor="middle" fill="#1a1a1a" transform="matrix(1 0 0 1.060 0 -37.844)" >4</text>
<text x="618.60" y="630.73" font-size="7.90" text-anchor="middle" fill="#1a1a1a" transform="matrix(1 0 0 1.060 0 -37.844)" >8</text>
<clipPath id="cF4a"><rect x="567.50" y="632.80" width="61.50" height="23.70"/></clipPath>
<rect x="567.50" y="632.80" width="61.50" height="23.70" fill="#f0f0f0" stroke="none" stroke-width="1.00" />
<g clip-path="url(#cF4a)">
<rect x="569.00" y="644.70" width="12.00" height="3.00" rx="2.40" ry="1.50" fill="#777" fill-opacity="0.35" filter="url(#bl)"/>
<rect x="584.50" y="644.60" width="11.00" height="2.40" rx="1.92" ry="1.20" fill="#888" fill-opacity="0.20" filter="url(#bl)"/>
<rect x="599.00" y="644.90" width="11.00" height="2.20" rx="1.76" ry="1.10" fill="#999" fill-opacity="0.15" filter="url(#bl)"/>
</g>
<rect x="567.50" y="632.50" width="61.00" height="24.00" fill="none" stroke="#231f20" stroke-width="1.00" />
<clipPath id="cF4b"><rect x="567.50" y="662.10" width="61.50" height="22.50"/></clipPath>
<rect x="567.50" y="662.10" width="61.50" height="22.50" fill="#f2f2f2" stroke="none" stroke-width="1.00" />
<g clip-path="url(#cF4b)">
<rect x="568.00" y="672.50" width="60.00" height="8.00" rx="6.40" ry="4.00" fill="#999" fill-opacity="0.30" filter="url(#bl3)"/>
<rect x="568.00" y="674.00" width="16.40" height="6.00" rx="4.80" ry="3.00" fill="#777" fill-opacity="0.55" filter="url(#bl)"/>
<rect x="581.80" y="673.00" width="16.40" height="6.00" rx="4.80" ry="3.00" fill="#777" fill-opacity="0.55" filter="url(#bl)"/>
<rect x="596.30" y="673.40" width="16.40" height="6.00" rx="4.80" ry="3.00" fill="#777" fill-opacity="0.55" filter="url(#bl)"/>
<rect x="610.40" y="672.80" width="16.40" height="6.00" rx="4.80" ry="3.00" fill="#777" fill-opacity="0.55" filter="url(#bl)"/>
</g>
<rect x="567.50" y="662.50" width="61.00" height="22.00" fill="none" stroke="#231f20" stroke-width="1.00" />
<line x1="629.00" y1="632.50" x2="637.00" y2="632.50" stroke="#231f20" stroke-width="1.00" />
<text x="640.20" y="635.26" font-size="7.70" text-anchor="start" fill="#1a1a1a" transform="matrix(1 0 0 1.060 0 -38.115)" >48</text>
<line x1="629.00" y1="665.50" x2="637.00" y2="665.50" stroke="#231f20" stroke-width="1.00" />
<text x="640.20" y="668.26" font-size="7.70" text-anchor="start" fill="#1a1a1a" transform="matrix(1 0 0 1.060 0 -40.095)" >63</text>
</svg>
</body></html>
